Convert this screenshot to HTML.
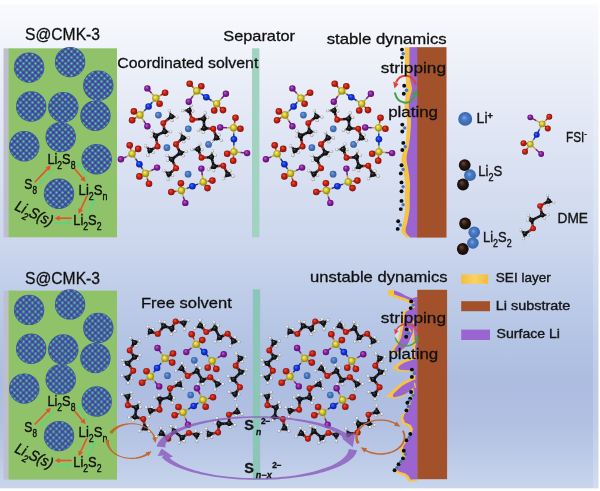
<!DOCTYPE html>
<html lang="en"><head><meta charset="utf-8"><title>Li-S electrolyte schematic</title>
<style>html,body{margin:0;padding:0;background:#fff;}body{width:600px;height:491px;overflow:hidden;}svg{display:block;font-family:"Liberation Sans",sans-serif;}</style></head><body>
<svg width="600" height="491" viewBox="0 0 600 491">
<defs>
<linearGradient id="bg" x1="0" y1="0" x2="0" y2="1"><stop offset="0" stop-color="#f9fafd"/><stop offset="0.26" stop-color="#e0e6f4"/><stop offset="0.5" stop-color="#cbd6ed"/><stop offset="0.68" stop-color="#b5c5e5"/><stop offset="0.78" stop-color="#adbde1"/><stop offset="0.86" stop-color="#b1c0e2"/><stop offset="0.93" stop-color="#bbc9e7"/><stop offset="1" stop-color="#c8d5ec"/></linearGradient>
<linearGradient id="gSEI" x1="0" y1="0" x2="1" y2="0"><stop offset="0" stop-color="#f3bd3c"/><stop offset="0.5" stop-color="#fbd264"/><stop offset="1" stop-color="#f3bd3c"/></linearGradient>
<radialGradient id="gO" cx="0.5" cy="0.5" r="0.56" fx="0.36" fy="0.32"><stop offset="0" stop-color="#f0523a"/><stop offset="0.42" stop-color="#cc2412"/><stop offset="0.85" stop-color="#8a1208"/><stop offset="1" stop-color="#6a0c04"/></radialGradient>
<radialGradient id="gS" cx="0.5" cy="0.5" r="0.56" fx="0.36" fy="0.32"><stop offset="0" stop-color="#fbf07a"/><stop offset="0.45" stop-color="#d6c832"/><stop offset="1" stop-color="#7e7312"/></radialGradient>
<radialGradient id="gN" cx="0.5" cy="0.5" r="0.56" fx="0.36" fy="0.32"><stop offset="0" stop-color="#4f78ff"/><stop offset="0.45" stop-color="#1636e0"/><stop offset="1" stop-color="#071a86"/></radialGradient>
<radialGradient id="gF" cx="0.5" cy="0.5" r="0.56" fx="0.36" fy="0.32"><stop offset="0" stop-color="#c860dc"/><stop offset="0.45" stop-color="#8c1fa2"/><stop offset="1" stop-color="#4a0c58"/></radialGradient>
<radialGradient id="gC" cx="0.5" cy="0.5" r="0.56" fx="0.36" fy="0.32"><stop offset="0" stop-color="#5a5a5a"/><stop offset="0.4" stop-color="#1c1c1c"/><stop offset="1" stop-color="#050505"/></radialGradient>
<radialGradient id="gH" cx="0.5" cy="0.5" r="0.56" fx="0.36" fy="0.32"><stop offset="0" stop-color="#ffffff"/><stop offset="0.5" stop-color="#dedede"/><stop offset="1" stop-color="#7c7c7c"/></radialGradient>
<radialGradient id="gL" cx="0.5" cy="0.5" r="0.56" fx="0.36" fy="0.32"><stop offset="0" stop-color="#7aa4dc"/><stop offset="0.5" stop-color="#4676be"/><stop offset="1" stop-color="#2f5a9e"/></radialGradient>
<radialGradient id="gL2" cx="0.5" cy="0.5" r="0.56" fx="0.42" fy="0.4"><stop offset="0" stop-color="#7fa8e0"/><stop offset="0.35" stop-color="#4a7cc4"/><stop offset="0.8" stop-color="#3a69b2"/><stop offset="1" stop-color="#2c5296"/></radialGradient>
<radialGradient id="gK" cx="0.5" cy="0.5" r="0.56" fx="0.36" fy="0.32"><stop offset="0" stop-color="#6a4a3a"/><stop offset="0.45" stop-color="#2a1812"/><stop offset="1" stop-color="#0c0604"/></radialGradient>
<pattern id="dots" width="6" height="6" patternUnits="userSpaceOnUse" x="1" y="2"><rect width="6" height="6" fill="#3a689e"/><circle cx="1.5" cy="1.5" r="1.3" fill="#5333a4"/><circle cx="4.5" cy="4.5" r="1.3" fill="#5333a4"/><circle cx="4.5" cy="1.5" r="1.02" fill="#68ca98"/><circle cx="1.5" cy="4.5" r="1.02" fill="#68ca98"/></pattern>
<g id="panel"><g><rect x="3.5" y="48.3" width="5.8" height="189" fill="#bdc0ca"/><rect x="8.6" y="48.3" width="108.4" height="189" fill="#90c369"/><circle cx="29.1" cy="67.6" r="15.2" fill="#36589a"/><circle cx="29.1" cy="67.6" r="14.6" fill="url(#dots)"/><circle cx="70.1" cy="62.1" r="15.2" fill="#36589a"/><circle cx="70.1" cy="62.1" r="14.6" fill="url(#dots)"/><circle cx="98.3" cy="85.6" r="15.2" fill="#36589a"/><circle cx="98.3" cy="85.6" r="14.6" fill="url(#dots)"/><circle cx="31.2" cy="106.5" r="15.2" fill="#36589a"/><circle cx="31.2" cy="106.5" r="14.6" fill="url(#dots)"/><circle cx="63.3" cy="107.2" r="15.2" fill="#36589a"/><circle cx="63.3" cy="107.2" r="14.6" fill="url(#dots)"/><circle cx="95.4" cy="115.8" r="15.2" fill="#36589a"/><circle cx="95.4" cy="115.8" r="14.6" fill="url(#dots)"/><circle cx="60.7" cy="137.1" r="15.2" fill="#36589a"/><circle cx="60.7" cy="137.1" r="14.6" fill="url(#dots)"/><circle cx="24.3" cy="146.3" r="15.2" fill="#36589a"/><circle cx="24.3" cy="146.3" r="14.6" fill="url(#dots)"/><circle cx="96.7" cy="159.2" r="15.2" fill="#36589a"/><circle cx="96.7" cy="159.2" r="14.6" fill="url(#dots)"/><circle cx="59" cy="193.8" r="15.2" fill="#36589a"/><circle cx="59" cy="193.8" r="14.6" fill="url(#dots)"/><line x1="34.8" y1="182.2" x2="47.79" y2="168.65" stroke="#e2522b" stroke-width="1.6"/><polygon points="50.9,165.4 49.32,170.81 45.56,167.21" fill="#e2522b"/><line x1="54" y1="169.3" x2="42.11" y2="181.75" stroke="#62d17a" stroke-width="1.6"/><polygon points="39,185 40.57,179.59 44.33,183.18" fill="#62d17a"/><line x1="74" y1="168" x2="82.7" y2="178.36" stroke="#e2522b" stroke-width="1.6"/><polygon points="85.6,181.8 80.39,179.65 84.37,176.3" fill="#e2522b"/><line x1="88" y1="179.3" x2="79.04" y2="165.38" stroke="#62d17a" stroke-width="1.6"/><polygon points="76.6,161.6 81.49,164.4 77.12,167.21" fill="#62d17a"/><line x1="87" y1="195.8" x2="80.5" y2="209.72" stroke="#e2522b" stroke-width="1.6"/><polygon points="78.6,213.8 78.36,208.17 83.07,210.37" fill="#e2522b"/><line x1="88" y1="215" x2="93.68" y2="202.12" stroke="#62d17a" stroke-width="1.6"/><polygon points="95.5,198 95.86,203.62 91.1,201.53" fill="#62d17a"/><line x1="71.6" y1="218.2" x2="59.1" y2="218.2" stroke="#e2522b" stroke-width="1.6"/><polygon points="54.6,218.2 59.6,215.6 59.6,220.8" fill="#e2522b"/><line x1="54.8" y1="223" x2="67.3" y2="223" stroke="#62d17a" stroke-width="1.6"/><polygon points="71.8,223 66.8,225.6 66.8,220.4" fill="#62d17a"/><g fill="#101010" stroke="#101010" stroke-width="0.4"><text x="47.4" y="163.8" font-size="15.2" textLength="28" lengthAdjust="spacingAndGlyphs"><tspan dy="0" font-size="15.2">Li</tspan><tspan dy="4.9" font-size="10.2">2</tspan><tspan dy="-4.9" font-size="15.2">S</tspan><tspan dy="4.9" font-size="10.2">8</tspan></text><text x="24.3" y="189.4" font-size="15.2" textLength="12.6" lengthAdjust="spacingAndGlyphs"><tspan dy="0" font-size="15.2">S</tspan><tspan dy="4.9" font-size="10.2">8</tspan></text><text x="78.6" y="194.9" font-size="15.2" textLength="28.8" lengthAdjust="spacingAndGlyphs"><tspan dy="0" font-size="15.2">Li</tspan><tspan dy="4.9" font-size="10.2">2</tspan><tspan dy="-4.9" font-size="15.2">S</tspan><tspan dy="4.9" font-size="10.2">n</tspan></text><text x="73.3" y="225.2" font-size="15.2" textLength="28.2" lengthAdjust="spacingAndGlyphs"><tspan dy="0" font-size="15.2">Li</tspan><tspan dy="4.9" font-size="10.2">2</tspan><tspan dy="-4.9" font-size="15.2">S</tspan><tspan dy="4.9" font-size="10.2">2</tspan></text><g transform="translate(14.0 209.6) rotate(25)"><text x="0" y="0" font-size="15" textLength="40" lengthAdjust="spacingAndGlyphs" font-style="italic"><tspan dy="0" font-size="15">Li</tspan><tspan dy="4.9" font-size="10">2</tspan><tspan dy="-4.9" font-size="15">S(s)</tspan></text></g></g></g></g>
<g id="ctop"><circle cx="158.4" cy="115.1" r="3.35" fill="url(#gL)"/><circle cx="188.3" cy="128.8" r="3.35" fill="url(#gL)"/><circle cx="166.9" cy="147.7" r="3.35" fill="url(#gL)"/><circle cx="208.6" cy="144.4" r="3.35" fill="url(#gL)"/><circle cx="188.1" cy="174.2" r="3.35" fill="url(#gL)"/><g><line x1="171.5" y1="116.6" x2="170.16" y2="113" stroke="#1b1b1b" stroke-width="2.1"/><line x1="170.16" y1="113" x2="169.34" y2="110.79" stroke="#8c8c8c" stroke-width="1.5"/><line x1="171.5" y1="116.6" x2="174.9" y2="116.81" stroke="#1b1b1b" stroke-width="2.1"/><line x1="174.9" y1="116.81" x2="176.99" y2="116.95" stroke="#8c8c8c" stroke-width="1.5"/><line x1="171.5" y1="116.6" x2="171.94" y2="118.98" stroke="#1b1b1b" stroke-width="2.1"/><line x1="171.94" y1="118.98" x2="172.2" y2="120.44" stroke="#8c8c8c" stroke-width="1.5"/><line x1="150" y1="150.3" x2="147.3" y2="147.56" stroke="#1b1b1b" stroke-width="2.1"/><line x1="147.3" y1="147.56" x2="145.65" y2="145.88" stroke="#8c8c8c" stroke-width="1.5"/><line x1="150" y1="150.3" x2="148.75" y2="153.47" stroke="#1b1b1b" stroke-width="2.1"/><line x1="148.75" y1="153.47" x2="147.99" y2="155.42" stroke="#8c8c8c" stroke-width="1.5"/><line x1="150" y1="150.3" x2="151.97" y2="151.7" stroke="#1b1b1b" stroke-width="2.1"/><line x1="151.97" y1="151.7" x2="153.18" y2="152.56" stroke="#8c8c8c" stroke-width="1.5"/><line x1="164.6" y1="131.6" x2="168.38" y2="131.72" stroke="#1b1b1b" stroke-width="2.1"/><line x1="168.38" y1="131.72" x2="170.7" y2="131.79" stroke="#8c8c8c" stroke-width="1.5"/><line x1="164.6" y1="131.6" x2="165.99" y2="133.8" stroke="#1b1b1b" stroke-width="2.1"/><line x1="165.99" y1="133.8" x2="166.84" y2="135.15" stroke="#8c8c8c" stroke-width="1.5"/><line x1="155.7" y1="135.9" x2="153.43" y2="132.88" stroke="#1b1b1b" stroke-width="2.1"/><line x1="153.43" y1="132.88" x2="152.03" y2="131.03" stroke="#8c8c8c" stroke-width="1.5"/><line x1="155.7" y1="135.9" x2="153.1" y2="136.04" stroke="#1b1b1b" stroke-width="2.1"/><line x1="153.1" y1="136.04" x2="151.51" y2="136.12" stroke="#8c8c8c" stroke-width="1.5"/><circle cx="169.34" cy="110.79" r="1.55" fill="url(#gH)"/><circle cx="176.99" cy="116.95" r="1.55" fill="url(#gH)"/><circle cx="172.2" cy="120.44" r="1.55" fill="url(#gH)"/><circle cx="145.65" cy="145.88" r="1.55" fill="url(#gH)"/><circle cx="147.99" cy="155.42" r="1.55" fill="url(#gH)"/><circle cx="153.18" cy="152.56" r="1.55" fill="url(#gH)"/><circle cx="170.7" cy="131.79" r="1.55" fill="url(#gH)"/><circle cx="166.84" cy="135.15" r="1.55" fill="url(#gH)"/><circle cx="152.03" cy="131.03" r="1.55" fill="url(#gH)"/><circle cx="151.51" cy="136.12" r="1.55" fill="url(#gH)"/><line x1="171.5" y1="116.6" x2="167.4" y2="119.85" stroke="#161616" stroke-width="2.6"/><line x1="167.4" y1="119.85" x2="163.3" y2="123.1" stroke="#b4200f" stroke-width="2.6"/><line x1="163.3" y1="123.1" x2="163.95" y2="127.35" stroke="#b4200f" stroke-width="2.6"/><line x1="163.95" y1="127.35" x2="164.6" y2="131.6" stroke="#161616" stroke-width="2.6"/><line x1="164.6" y1="131.6" x2="160.15" y2="133.75" stroke="#161616" stroke-width="2.6"/><line x1="160.15" y1="133.75" x2="155.7" y2="135.9" stroke="#161616" stroke-width="2.6"/><line x1="155.7" y1="135.9" x2="156.65" y2="141.2" stroke="#161616" stroke-width="2.6"/><line x1="156.65" y1="141.2" x2="157.6" y2="146.5" stroke="#b4200f" stroke-width="2.6"/><line x1="157.6" y1="146.5" x2="153.8" y2="148.4" stroke="#b4200f" stroke-width="2.6"/><line x1="153.8" y1="148.4" x2="150" y2="150.3" stroke="#161616" stroke-width="2.6"/><circle cx="171.5" cy="116.6" r="2.6" fill="url(#gC)"/><circle cx="164.6" cy="131.6" r="2.6" fill="url(#gC)"/><circle cx="155.7" cy="135.9" r="2.6" fill="url(#gC)"/><circle cx="150" cy="150.3" r="2.6" fill="url(#gC)"/><circle cx="163.3" cy="123.1" r="2.95" fill="url(#gO)"/><circle cx="157.6" cy="146.5" r="2.95" fill="url(#gO)"/></g><g><line x1="183" y1="137.9" x2="181.44" y2="134.39" stroke="#1b1b1b" stroke-width="2.1"/><line x1="181.44" y1="134.39" x2="180.48" y2="132.24" stroke="#8c8c8c" stroke-width="1.5"/><line x1="183" y1="137.9" x2="186.41" y2="137.9" stroke="#1b1b1b" stroke-width="2.1"/><line x1="186.41" y1="137.9" x2="188.5" y2="137.9" stroke="#8c8c8c" stroke-width="1.5"/><line x1="183" y1="137.9" x2="183.58" y2="140.25" stroke="#1b1b1b" stroke-width="2.1"/><line x1="183.58" y1="140.25" x2="183.94" y2="141.68" stroke="#8c8c8c" stroke-width="1.5"/><line x1="169" y1="174" x2="165.77" y2="171.92" stroke="#1b1b1b" stroke-width="2.1"/><line x1="165.77" y1="171.92" x2="163.79" y2="170.65" stroke="#8c8c8c" stroke-width="1.5"/><line x1="169" y1="174" x2="168.48" y2="177.37" stroke="#1b1b1b" stroke-width="2.1"/><line x1="168.48" y1="177.37" x2="168.16" y2="179.44" stroke="#8c8c8c" stroke-width="1.5"/><line x1="169" y1="174" x2="171.23" y2="174.94" stroke="#1b1b1b" stroke-width="2.1"/><line x1="171.23" y1="174.94" x2="172.6" y2="175.51" stroke="#8c8c8c" stroke-width="1.5"/><line x1="180.3" y1="152.9" x2="183.99" y2="152.07" stroke="#1b1b1b" stroke-width="2.1"/><line x1="183.99" y1="152.07" x2="186.25" y2="151.57" stroke="#8c8c8c" stroke-width="1.5"/><line x1="180.3" y1="152.9" x2="182.19" y2="154.69" stroke="#1b1b1b" stroke-width="2.1"/><line x1="182.19" y1="154.69" x2="183.35" y2="155.78" stroke="#8c8c8c" stroke-width="1.5"/><line x1="171.8" y1="159.3" x2="168.89" y2="156.89" stroke="#1b1b1b" stroke-width="2.1"/><line x1="168.89" y1="156.89" x2="167.1" y2="155.41" stroke="#8c8c8c" stroke-width="1.5"/><line x1="171.8" y1="159.3" x2="169.3" y2="160.03" stroke="#1b1b1b" stroke-width="2.1"/><line x1="169.3" y1="160.03" x2="167.77" y2="160.48" stroke="#8c8c8c" stroke-width="1.5"/><circle cx="180.48" cy="132.24" r="1.55" fill="url(#gH)"/><circle cx="188.5" cy="137.9" r="1.55" fill="url(#gH)"/><circle cx="183.94" cy="141.68" r="1.55" fill="url(#gH)"/><circle cx="163.79" cy="170.65" r="1.55" fill="url(#gH)"/><circle cx="168.16" cy="179.44" r="1.55" fill="url(#gH)"/><circle cx="172.6" cy="175.51" r="1.55" fill="url(#gH)"/><circle cx="186.25" cy="151.57" r="1.55" fill="url(#gH)"/><circle cx="183.35" cy="155.78" r="1.55" fill="url(#gH)"/><circle cx="167.1" cy="155.41" r="1.55" fill="url(#gH)"/><circle cx="167.77" cy="160.48" r="1.55" fill="url(#gH)"/><line x1="183" y1="137.9" x2="179.5" y2="141.05" stroke="#161616" stroke-width="2.6"/><line x1="179.5" y1="141.05" x2="176" y2="144.2" stroke="#b4200f" stroke-width="2.6"/><line x1="176" y1="144.2" x2="178.15" y2="148.55" stroke="#b4200f" stroke-width="2.6"/><line x1="178.15" y1="148.55" x2="180.3" y2="152.9" stroke="#161616" stroke-width="2.6"/><line x1="180.3" y1="152.9" x2="176.05" y2="156.1" stroke="#161616" stroke-width="2.6"/><line x1="176.05" y1="156.1" x2="171.8" y2="159.3" stroke="#161616" stroke-width="2.6"/><line x1="171.8" y1="159.3" x2="173.95" y2="163.75" stroke="#161616" stroke-width="2.6"/><line x1="173.95" y1="163.75" x2="176.1" y2="168.2" stroke="#b4200f" stroke-width="2.6"/><line x1="176.1" y1="168.2" x2="172.55" y2="171.1" stroke="#b4200f" stroke-width="2.6"/><line x1="172.55" y1="171.1" x2="169" y2="174" stroke="#161616" stroke-width="2.6"/><circle cx="183" cy="137.9" r="2.6" fill="url(#gC)"/><circle cx="180.3" cy="152.9" r="2.6" fill="url(#gC)"/><circle cx="171.8" cy="159.3" r="2.6" fill="url(#gC)"/><circle cx="169" cy="174" r="2.6" fill="url(#gC)"/><circle cx="176" cy="144.2" r="2.95" fill="url(#gO)"/><circle cx="176.1" cy="168.2" r="2.95" fill="url(#gO)"/></g><g><line x1="189" y1="110.5" x2="185.16" y2="110.57" stroke="#1b1b1b" stroke-width="2.1"/><line x1="185.16" y1="110.57" x2="182.8" y2="110.61" stroke="#8c8c8c" stroke-width="1.5"/><line x1="189" y1="110.5" x2="190.33" y2="107.36" stroke="#1b1b1b" stroke-width="2.1"/><line x1="190.33" y1="107.36" x2="191.15" y2="105.44" stroke="#8c8c8c" stroke-width="1.5"/><line x1="189" y1="110.5" x2="191.39" y2="110.88" stroke="#1b1b1b" stroke-width="2.1"/><line x1="191.39" y1="110.88" x2="192.85" y2="111.11" stroke="#8c8c8c" stroke-width="1.5"/><line x1="216.6" y1="137.8" x2="213.58" y2="140.17" stroke="#1b1b1b" stroke-width="2.1"/><line x1="213.58" y1="140.17" x2="211.72" y2="141.63" stroke="#8c8c8c" stroke-width="1.5"/><line x1="216.6" y1="137.8" x2="219.61" y2="139.39" stroke="#1b1b1b" stroke-width="2.1"/><line x1="219.61" y1="139.39" x2="221.46" y2="140.37" stroke="#8c8c8c" stroke-width="1.5"/><line x1="216.6" y1="137.8" x2="218.21" y2="136" stroke="#1b1b1b" stroke-width="2.1"/><line x1="218.21" y1="136" x2="219.2" y2="134.9" stroke="#8c8c8c" stroke-width="1.5"/><line x1="203.7" y1="118.8" x2="204.66" y2="115.14" stroke="#1b1b1b" stroke-width="2.1"/><line x1="204.66" y1="115.14" x2="205.25" y2="112.9" stroke="#8c8c8c" stroke-width="1.5"/><line x1="203.7" y1="118.8" x2="206.16" y2="117.94" stroke="#1b1b1b" stroke-width="2.1"/><line x1="206.16" y1="117.94" x2="207.66" y2="117.41" stroke="#8c8c8c" stroke-width="1.5"/><line x1="204.3" y1="128.2" x2="200.72" y2="129.43" stroke="#1b1b1b" stroke-width="2.1"/><line x1="200.72" y1="129.43" x2="198.53" y2="130.18" stroke="#8c8c8c" stroke-width="1.5"/><line x1="204.3" y1="128.2" x2="203.62" y2="130.71" stroke="#1b1b1b" stroke-width="2.1"/><line x1="203.62" y1="130.71" x2="203.21" y2="132.26" stroke="#8c8c8c" stroke-width="1.5"/><circle cx="182.8" cy="110.61" r="1.55" fill="url(#gH)"/><circle cx="191.15" cy="105.44" r="1.55" fill="url(#gH)"/><circle cx="192.85" cy="111.11" r="1.55" fill="url(#gH)"/><circle cx="211.72" cy="141.63" r="1.55" fill="url(#gH)"/><circle cx="221.46" cy="140.37" r="1.55" fill="url(#gH)"/><circle cx="219.2" cy="134.9" r="1.55" fill="url(#gH)"/><circle cx="205.25" cy="112.9" r="1.55" fill="url(#gH)"/><circle cx="207.66" cy="117.41" r="1.55" fill="url(#gH)"/><circle cx="198.53" cy="130.18" r="1.55" fill="url(#gH)"/><circle cx="203.21" cy="132.26" r="1.55" fill="url(#gH)"/><line x1="189" y1="110.5" x2="190.6" y2="115.15" stroke="#161616" stroke-width="2.6"/><line x1="190.6" y1="115.15" x2="192.2" y2="119.8" stroke="#b4200f" stroke-width="2.6"/><line x1="192.2" y1="119.8" x2="197.95" y2="119.3" stroke="#b4200f" stroke-width="2.6"/><line x1="197.95" y1="119.3" x2="203.7" y2="118.8" stroke="#161616" stroke-width="2.6"/><line x1="203.7" y1="118.8" x2="204" y2="123.5" stroke="#161616" stroke-width="2.6"/><line x1="204" y1="123.5" x2="204.3" y2="128.2" stroke="#161616" stroke-width="2.6"/><line x1="204.3" y1="128.2" x2="208.8" y2="128.5" stroke="#161616" stroke-width="2.6"/><line x1="208.8" y1="128.5" x2="213.3" y2="128.8" stroke="#b4200f" stroke-width="2.6"/><line x1="213.3" y1="128.8" x2="214.95" y2="133.3" stroke="#b4200f" stroke-width="2.6"/><line x1="214.95" y1="133.3" x2="216.6" y2="137.8" stroke="#161616" stroke-width="2.6"/><circle cx="189" cy="110.5" r="2.6" fill="url(#gC)"/><circle cx="203.7" cy="118.8" r="2.6" fill="url(#gC)"/><circle cx="204.3" cy="128.2" r="2.6" fill="url(#gC)"/><circle cx="216.6" cy="137.8" r="2.6" fill="url(#gC)"/><circle cx="192.2" cy="119.8" r="2.95" fill="url(#gO)"/><circle cx="213.3" cy="128.8" r="2.95" fill="url(#gO)"/></g><g><line x1="198.1" y1="149.2" x2="194.26" y2="149.44" stroke="#1b1b1b" stroke-width="2.1"/><line x1="194.26" y1="149.44" x2="191.91" y2="149.59" stroke="#8c8c8c" stroke-width="1.5"/><line x1="198.1" y1="149.2" x2="199.29" y2="146" stroke="#1b1b1b" stroke-width="2.1"/><line x1="199.29" y1="146" x2="200.02" y2="144.05" stroke="#8c8c8c" stroke-width="1.5"/><line x1="198.1" y1="149.2" x2="200.5" y2="149.47" stroke="#1b1b1b" stroke-width="2.1"/><line x1="200.5" y1="149.47" x2="201.98" y2="149.64" stroke="#8c8c8c" stroke-width="1.5"/><line x1="227.9" y1="174.3" x2="225.24" y2="177.07" stroke="#1b1b1b" stroke-width="2.1"/><line x1="225.24" y1="177.07" x2="223.6" y2="178.77" stroke="#8c8c8c" stroke-width="1.5"/><line x1="227.9" y1="174.3" x2="231.11" y2="175.46" stroke="#1b1b1b" stroke-width="2.1"/><line x1="231.11" y1="175.46" x2="233.07" y2="176.17" stroke="#8c8c8c" stroke-width="1.5"/><line x1="227.9" y1="174.3" x2="229.25" y2="172.29" stroke="#1b1b1b" stroke-width="2.1"/><line x1="229.25" y1="172.29" x2="230.07" y2="171.06" stroke="#8c8c8c" stroke-width="1.5"/><line x1="211.4" y1="157.1" x2="212" y2="153.37" stroke="#1b1b1b" stroke-width="2.1"/><line x1="212" y1="153.37" x2="212.37" y2="151.08" stroke="#8c8c8c" stroke-width="1.5"/><line x1="211.4" y1="157.1" x2="213.76" y2="156.01" stroke="#1b1b1b" stroke-width="2.1"/><line x1="213.76" y1="156.01" x2="215.21" y2="155.34" stroke="#8c8c8c" stroke-width="1.5"/><line x1="214" y1="166.4" x2="210.69" y2="168.23" stroke="#1b1b1b" stroke-width="2.1"/><line x1="210.69" y1="168.23" x2="208.66" y2="169.35" stroke="#8c8c8c" stroke-width="1.5"/><line x1="214" y1="166.4" x2="213.77" y2="168.99" stroke="#1b1b1b" stroke-width="2.1"/><line x1="213.77" y1="168.99" x2="213.63" y2="170.58" stroke="#8c8c8c" stroke-width="1.5"/><circle cx="191.91" cy="149.59" r="1.55" fill="url(#gH)"/><circle cx="200.02" cy="144.05" r="1.55" fill="url(#gH)"/><circle cx="201.98" cy="149.64" r="1.55" fill="url(#gH)"/><circle cx="223.6" cy="178.77" r="1.55" fill="url(#gH)"/><circle cx="233.07" cy="176.17" r="1.55" fill="url(#gH)"/><circle cx="230.07" cy="171.06" r="1.55" fill="url(#gH)"/><circle cx="212.37" cy="151.08" r="1.55" fill="url(#gH)"/><circle cx="215.21" cy="155.34" r="1.55" fill="url(#gH)"/><circle cx="208.66" cy="169.35" r="1.55" fill="url(#gH)"/><circle cx="213.63" cy="170.58" r="1.55" fill="url(#gH)"/><line x1="198.1" y1="149.2" x2="199.8" y2="153.5" stroke="#161616" stroke-width="2.6"/><line x1="199.8" y1="153.5" x2="201.5" y2="157.8" stroke="#b4200f" stroke-width="2.6"/><line x1="201.5" y1="157.8" x2="206.45" y2="157.45" stroke="#b4200f" stroke-width="2.6"/><line x1="206.45" y1="157.45" x2="211.4" y2="157.1" stroke="#161616" stroke-width="2.6"/><line x1="211.4" y1="157.1" x2="212.7" y2="161.75" stroke="#161616" stroke-width="2.6"/><line x1="212.7" y1="161.75" x2="214" y2="166.4" stroke="#161616" stroke-width="2.6"/><line x1="214" y1="166.4" x2="218.65" y2="166.05" stroke="#161616" stroke-width="2.6"/><line x1="218.65" y1="166.05" x2="223.3" y2="165.7" stroke="#b4200f" stroke-width="2.6"/><line x1="223.3" y1="165.7" x2="225.6" y2="170" stroke="#b4200f" stroke-width="2.6"/><line x1="225.6" y1="170" x2="227.9" y2="174.3" stroke="#161616" stroke-width="2.6"/><circle cx="198.1" cy="149.2" r="2.6" fill="url(#gC)"/><circle cx="211.4" cy="157.1" r="2.6" fill="url(#gC)"/><circle cx="214" cy="166.4" r="2.6" fill="url(#gC)"/><circle cx="227.9" cy="174.3" r="2.6" fill="url(#gC)"/><circle cx="201.5" cy="157.8" r="2.95" fill="url(#gO)"/><circle cx="223.3" cy="165.7" r="2.95" fill="url(#gO)"/></g><g><line x1="155.9" y1="98.2" x2="160.5" y2="95.45" stroke="#bcae28" stroke-width="1.5"/><line x1="160.5" y1="95.45" x2="165.1" y2="92.7" stroke="#b4200f" stroke-width="1.5"/><line x1="155.9" y1="98.2" x2="157.75" y2="100.95" stroke="#bcae28" stroke-width="1.5"/><line x1="157.75" y1="100.95" x2="159.6" y2="103.7" stroke="#b4200f" stroke-width="1.5"/><line x1="155.9" y1="98.2" x2="151.65" y2="93.3" stroke="#bcae28" stroke-width="1.5"/><line x1="151.65" y1="93.3" x2="147.4" y2="88.4" stroke="#7a1a8c" stroke-width="1.5"/><line x1="155.9" y1="98.2" x2="152.25" y2="102.35" stroke="#bcae28" stroke-width="1.5"/><line x1="152.25" y1="102.35" x2="148.6" y2="106.5" stroke="#1230c0" stroke-width="1.5"/><line x1="140" y1="115" x2="136.95" y2="113.2" stroke="#bcae28" stroke-width="1.5"/><line x1="136.95" y1="113.2" x2="133.9" y2="111.4" stroke="#b4200f" stroke-width="1.5"/><line x1="140" y1="115" x2="136.05" y2="117.6" stroke="#bcae28" stroke-width="1.5"/><line x1="136.05" y1="117.6" x2="132.1" y2="120.2" stroke="#b4200f" stroke-width="1.5"/><line x1="140" y1="115" x2="143.7" y2="120.65" stroke="#bcae28" stroke-width="1.5"/><line x1="143.7" y1="120.65" x2="147.4" y2="126.3" stroke="#7a1a8c" stroke-width="1.5"/><line x1="140" y1="115" x2="144.3" y2="110.75" stroke="#bcae28" stroke-width="1.5"/><line x1="144.3" y1="110.75" x2="148.6" y2="106.5" stroke="#1230c0" stroke-width="1.5"/><circle cx="147.4" cy="88.4" r="3.2" fill="url(#gF)"/><circle cx="147.4" cy="126.3" r="3.2" fill="url(#gF)"/><circle cx="165.1" cy="92.7" r="3.3" fill="url(#gO)"/><circle cx="159.6" cy="103.7" r="3.3" fill="url(#gO)"/><circle cx="133.9" cy="111.4" r="3.3" fill="url(#gO)"/><circle cx="132.1" cy="120.2" r="3.3" fill="url(#gO)"/><circle cx="148.6" cy="106.5" r="3.3" fill="url(#gN)"/><circle cx="155.9" cy="98.2" r="3.65" fill="url(#gS)"/><circle cx="140" cy="115" r="3.65" fill="url(#gS)"/></g><g><line x1="196.8" y1="90.9" x2="193.25" y2="87.35" stroke="#bcae28" stroke-width="1.5"/><line x1="193.25" y1="87.35" x2="189.7" y2="83.8" stroke="#b4200f" stroke-width="1.5"/><line x1="196.8" y1="90.9" x2="199.05" y2="88.6" stroke="#bcae28" stroke-width="1.5"/><line x1="199.05" y1="88.6" x2="201.3" y2="86.3" stroke="#b4200f" stroke-width="1.5"/><line x1="196.8" y1="90.9" x2="192.8" y2="96.3" stroke="#bcae28" stroke-width="1.5"/><line x1="192.8" y1="96.3" x2="188.8" y2="101.7" stroke="#7a1a8c" stroke-width="1.5"/><line x1="196.8" y1="90.9" x2="201.55" y2="94.05" stroke="#bcae28" stroke-width="1.5"/><line x1="201.55" y1="94.05" x2="206.3" y2="97.2" stroke="#1230c0" stroke-width="1.5"/><line x1="216.7" y1="103.8" x2="215.45" y2="107.15" stroke="#bcae28" stroke-width="1.5"/><line x1="215.45" y1="107.15" x2="214.2" y2="110.5" stroke="#b4200f" stroke-width="1.5"/><line x1="216.7" y1="103.8" x2="219.85" y2="106.95" stroke="#bcae28" stroke-width="1.5"/><line x1="219.85" y1="106.95" x2="223" y2="110.1" stroke="#b4200f" stroke-width="1.5"/><line x1="216.7" y1="103.8" x2="221.3" y2="98.8" stroke="#bcae28" stroke-width="1.5"/><line x1="221.3" y1="98.8" x2="225.9" y2="93.8" stroke="#7a1a8c" stroke-width="1.5"/><line x1="216.7" y1="103.8" x2="211.5" y2="100.5" stroke="#bcae28" stroke-width="1.5"/><line x1="211.5" y1="100.5" x2="206.3" y2="97.2" stroke="#1230c0" stroke-width="1.5"/><circle cx="188.8" cy="101.7" r="3.2" fill="url(#gF)"/><circle cx="225.9" cy="93.8" r="3.2" fill="url(#gF)"/><circle cx="189.7" cy="83.8" r="3.3" fill="url(#gO)"/><circle cx="201.3" cy="86.3" r="3.3" fill="url(#gO)"/><circle cx="214.2" cy="110.5" r="3.3" fill="url(#gO)"/><circle cx="223" cy="110.1" r="3.3" fill="url(#gO)"/><circle cx="206.3" cy="97.2" r="3.3" fill="url(#gN)"/><circle cx="196.8" cy="90.9" r="3.65" fill="url(#gS)"/><circle cx="216.7" cy="103.8" r="3.65" fill="url(#gS)"/></g><g><line x1="233.6" y1="127.8" x2="234.55" y2="122.8" stroke="#bcae28" stroke-width="1.5"/><line x1="234.55" y1="122.8" x2="235.5" y2="117.8" stroke="#b4200f" stroke-width="1.5"/><line x1="233.6" y1="127.8" x2="237" y2="128.3" stroke="#bcae28" stroke-width="1.5"/><line x1="237" y1="128.3" x2="240.4" y2="128.8" stroke="#b4200f" stroke-width="1.5"/><line x1="233.6" y1="127.8" x2="226.9" y2="127.65" stroke="#bcae28" stroke-width="1.5"/><line x1="226.9" y1="127.65" x2="220.2" y2="127.5" stroke="#7a1a8c" stroke-width="1.5"/><line x1="233.6" y1="127.8" x2="233.75" y2="133.55" stroke="#bcae28" stroke-width="1.5"/><line x1="233.75" y1="133.55" x2="233.9" y2="139.3" stroke="#1230c0" stroke-width="1.5"/><line x1="233.9" y1="151.8" x2="230.55" y2="152.8" stroke="#bcae28" stroke-width="1.5"/><line x1="230.55" y1="152.8" x2="227.2" y2="153.8" stroke="#b4200f" stroke-width="1.5"/><line x1="233.9" y1="151.8" x2="233.55" y2="156.25" stroke="#bcae28" stroke-width="1.5"/><line x1="233.55" y1="156.25" x2="233.2" y2="160.7" stroke="#b4200f" stroke-width="1.5"/><line x1="233.9" y1="151.8" x2="240.5" y2="152.45" stroke="#bcae28" stroke-width="1.5"/><line x1="240.5" y1="152.45" x2="247.1" y2="153.1" stroke="#7a1a8c" stroke-width="1.5"/><line x1="233.9" y1="151.8" x2="233.9" y2="145.55" stroke="#bcae28" stroke-width="1.5"/><line x1="233.9" y1="145.55" x2="233.9" y2="139.3" stroke="#1230c0" stroke-width="1.5"/><circle cx="220.2" cy="127.5" r="3.2" fill="url(#gF)"/><circle cx="247.1" cy="153.1" r="3.2" fill="url(#gF)"/><circle cx="235.5" cy="117.8" r="3.3" fill="url(#gO)"/><circle cx="240.4" cy="128.8" r="3.3" fill="url(#gO)"/><circle cx="227.2" cy="153.8" r="3.3" fill="url(#gO)"/><circle cx="233.2" cy="160.7" r="3.3" fill="url(#gO)"/><circle cx="233.9" cy="139.3" r="3.3" fill="url(#gN)"/><circle cx="233.6" cy="127.8" r="3.65" fill="url(#gS)"/><circle cx="233.9" cy="151.8" r="3.65" fill="url(#gS)"/></g><g><line x1="203.3" y1="182" x2="207.85" y2="181.3" stroke="#bcae28" stroke-width="1.5"/><line x1="207.85" y1="181.3" x2="212.4" y2="180.6" stroke="#b4200f" stroke-width="1.5"/><line x1="203.3" y1="182" x2="205.4" y2="185.05" stroke="#bcae28" stroke-width="1.5"/><line x1="205.4" y1="185.05" x2="207.5" y2="188.1" stroke="#b4200f" stroke-width="1.5"/><line x1="203.3" y1="182" x2="202.35" y2="175.3" stroke="#bcae28" stroke-width="1.5"/><line x1="202.35" y1="175.3" x2="201.4" y2="168.6" stroke="#7a1a8c" stroke-width="1.5"/><line x1="203.3" y1="182" x2="197.85" y2="184.15" stroke="#bcae28" stroke-width="1.5"/><line x1="197.85" y1="184.15" x2="192.4" y2="186.3" stroke="#1230c0" stroke-width="1.5"/><line x1="181.4" y1="190.5" x2="181.15" y2="186.9" stroke="#bcae28" stroke-width="1.5"/><line x1="181.15" y1="186.9" x2="180.9" y2="183.3" stroke="#b4200f" stroke-width="1.5"/><line x1="181.4" y1="190.5" x2="176.35" y2="191.25" stroke="#bcae28" stroke-width="1.5"/><line x1="176.35" y1="191.25" x2="171.3" y2="192" stroke="#b4200f" stroke-width="1.5"/><line x1="181.4" y1="190.5" x2="183.35" y2="196.7" stroke="#bcae28" stroke-width="1.5"/><line x1="183.35" y1="196.7" x2="185.3" y2="202.9" stroke="#7a1a8c" stroke-width="1.5"/><line x1="181.4" y1="190.5" x2="186.9" y2="188.4" stroke="#bcae28" stroke-width="1.5"/><line x1="186.9" y1="188.4" x2="192.4" y2="186.3" stroke="#1230c0" stroke-width="1.5"/><circle cx="201.4" cy="168.6" r="3.2" fill="url(#gF)"/><circle cx="185.3" cy="202.9" r="3.2" fill="url(#gF)"/><circle cx="212.4" cy="180.6" r="3.3" fill="url(#gO)"/><circle cx="207.5" cy="188.1" r="3.3" fill="url(#gO)"/><circle cx="180.9" cy="183.3" r="3.3" fill="url(#gO)"/><circle cx="171.3" cy="192" r="3.3" fill="url(#gO)"/><circle cx="192.4" cy="186.3" r="3.3" fill="url(#gN)"/><circle cx="203.3" cy="182" r="3.65" fill="url(#gS)"/><circle cx="181.4" cy="190.5" r="3.65" fill="url(#gS)"/></g><g><line x1="132.1" y1="153.8" x2="130.9" y2="149.55" stroke="#bcae28" stroke-width="1.5"/><line x1="130.9" y1="149.55" x2="129.7" y2="145.3" stroke="#b4200f" stroke-width="1.5"/><line x1="132.1" y1="153.8" x2="135.15" y2="151.35" stroke="#bcae28" stroke-width="1.5"/><line x1="135.15" y1="151.35" x2="138.2" y2="148.9" stroke="#b4200f" stroke-width="1.5"/><line x1="132.1" y1="153.8" x2="126.5" y2="156.55" stroke="#bcae28" stroke-width="1.5"/><line x1="126.5" y1="156.55" x2="120.9" y2="159.3" stroke="#7a1a8c" stroke-width="1.5"/><line x1="132.1" y1="153.8" x2="135.75" y2="159" stroke="#bcae28" stroke-width="1.5"/><line x1="135.75" y1="159" x2="139.4" y2="164.2" stroke="#1230c0" stroke-width="1.5"/><line x1="145.5" y1="173.4" x2="142.45" y2="174.9" stroke="#bcae28" stroke-width="1.5"/><line x1="142.45" y1="174.9" x2="139.4" y2="176.4" stroke="#b4200f" stroke-width="1.5"/><line x1="145.5" y1="173.4" x2="147.25" y2="178.6" stroke="#bcae28" stroke-width="1.5"/><line x1="147.25" y1="178.6" x2="149" y2="183.8" stroke="#b4200f" stroke-width="1.5"/><line x1="145.5" y1="173.4" x2="151.3" y2="170.5" stroke="#bcae28" stroke-width="1.5"/><line x1="151.3" y1="170.5" x2="157.1" y2="167.6" stroke="#7a1a8c" stroke-width="1.5"/><line x1="145.5" y1="173.4" x2="142.45" y2="168.8" stroke="#bcae28" stroke-width="1.5"/><line x1="142.45" y1="168.8" x2="139.4" y2="164.2" stroke="#1230c0" stroke-width="1.5"/><circle cx="120.9" cy="159.3" r="3.2" fill="url(#gF)"/><circle cx="157.1" cy="167.6" r="3.2" fill="url(#gF)"/><circle cx="129.7" cy="145.3" r="3.3" fill="url(#gO)"/><circle cx="138.2" cy="148.9" r="3.3" fill="url(#gO)"/><circle cx="139.4" cy="176.4" r="3.3" fill="url(#gO)"/><circle cx="149" cy="183.8" r="3.3" fill="url(#gO)"/><circle cx="139.4" cy="164.2" r="3.3" fill="url(#gN)"/><circle cx="132.1" cy="153.8" r="3.65" fill="url(#gS)"/><circle cx="145.5" cy="173.4" r="3.65" fill="url(#gS)"/></g></g>
<g id="cbot"><circle cx="167.5" cy="375.7" r="3.35" fill="url(#gL)"/><circle cx="194.3" cy="360.3" r="3.35" fill="url(#gL)"/><circle cx="190.7" cy="395" r="3.35" fill="url(#gL)"/><g><line x1="150.4" y1="331.5" x2="148.14" y2="334.61" stroke="#1b1b1b" stroke-width="2.1"/><line x1="148.14" y1="334.61" x2="146.76" y2="336.52" stroke="#8c8c8c" stroke-width="1.5"/><line x1="150.4" y1="331.5" x2="148.69" y2="328.55" stroke="#1b1b1b" stroke-width="2.1"/><line x1="148.69" y1="328.55" x2="147.65" y2="326.74" stroke="#8c8c8c" stroke-width="1.5"/><line x1="150.4" y1="331.5" x2="152.14" y2="329.82" stroke="#1b1b1b" stroke-width="2.1"/><line x1="152.14" y1="329.82" x2="153.2" y2="328.79" stroke="#8c8c8c" stroke-width="1.5"/><line x1="183.8" y1="323" x2="184.27" y2="326.82" stroke="#1b1b1b" stroke-width="2.1"/><line x1="184.27" y1="326.82" x2="184.55" y2="329.15" stroke="#8c8c8c" stroke-width="1.5"/><line x1="183.8" y1="323" x2="186.72" y2="321.25" stroke="#1b1b1b" stroke-width="2.1"/><line x1="186.72" y1="321.25" x2="188.52" y2="320.17" stroke="#8c8c8c" stroke-width="1.5"/><line x1="183.8" y1="323" x2="183.09" y2="320.69" stroke="#1b1b1b" stroke-width="2.1"/><line x1="183.09" y1="320.69" x2="182.66" y2="319.27" stroke="#8c8c8c" stroke-width="1.5"/><line x1="163.9" y1="326" x2="161.29" y2="323.27" stroke="#1b1b1b" stroke-width="2.1"/><line x1="161.29" y1="323.27" x2="159.68" y2="321.59" stroke="#8c8c8c" stroke-width="1.5"/><line x1="163.9" y1="326" x2="164.45" y2="323.46" stroke="#1b1b1b" stroke-width="2.1"/><line x1="164.45" y1="323.46" x2="164.79" y2="321.9" stroke="#8c8c8c" stroke-width="1.5"/><line x1="171.8" y1="328.4" x2="171.56" y2="332.17" stroke="#1b1b1b" stroke-width="2.1"/><line x1="171.56" y1="332.17" x2="171.41" y2="334.49" stroke="#8c8c8c" stroke-width="1.5"/><line x1="171.8" y1="328.4" x2="173.86" y2="329.99" stroke="#1b1b1b" stroke-width="2.1"/><line x1="173.86" y1="329.99" x2="175.12" y2="330.97" stroke="#8c8c8c" stroke-width="1.5"/><circle cx="146.76" cy="336.52" r="1.55" fill="url(#gH)"/><circle cx="147.65" cy="326.74" r="1.55" fill="url(#gH)"/><circle cx="153.2" cy="328.79" r="1.55" fill="url(#gH)"/><circle cx="184.55" cy="329.15" r="1.55" fill="url(#gH)"/><circle cx="188.52" cy="320.17" r="1.55" fill="url(#gH)"/><circle cx="182.66" cy="319.27" r="1.55" fill="url(#gH)"/><circle cx="159.68" cy="321.59" r="1.55" fill="url(#gH)"/><circle cx="164.79" cy="321.9" r="1.55" fill="url(#gH)"/><circle cx="171.41" cy="334.49" r="1.55" fill="url(#gH)"/><circle cx="175.12" cy="330.97" r="1.55" fill="url(#gH)"/><line x1="150.4" y1="331.5" x2="154.1" y2="332.7" stroke="#161616" stroke-width="2.6"/><line x1="154.1" y1="332.7" x2="157.8" y2="333.9" stroke="#b4200f" stroke-width="2.6"/><line x1="157.8" y1="333.9" x2="160.85" y2="329.95" stroke="#b4200f" stroke-width="2.6"/><line x1="160.85" y1="329.95" x2="163.9" y2="326" stroke="#161616" stroke-width="2.6"/><line x1="163.9" y1="326" x2="167.85" y2="327.2" stroke="#161616" stroke-width="2.6"/><line x1="167.85" y1="327.2" x2="171.8" y2="328.4" stroke="#161616" stroke-width="2.6"/><line x1="171.8" y1="328.4" x2="173.7" y2="324.9" stroke="#161616" stroke-width="2.6"/><line x1="173.7" y1="324.9" x2="175.6" y2="321.4" stroke="#b4200f" stroke-width="2.6"/><line x1="175.6" y1="321.4" x2="179.7" y2="322.2" stroke="#b4200f" stroke-width="2.6"/><line x1="179.7" y1="322.2" x2="183.8" y2="323" stroke="#161616" stroke-width="2.6"/><circle cx="150.4" cy="331.5" r="2.6" fill="url(#gC)"/><circle cx="163.9" cy="326" r="2.6" fill="url(#gC)"/><circle cx="171.8" cy="328.4" r="2.6" fill="url(#gC)"/><circle cx="183.8" cy="323" r="2.6" fill="url(#gC)"/><circle cx="157.8" cy="333.9" r="2.95" fill="url(#gO)"/><circle cx="175.6" cy="321.4" r="2.95" fill="url(#gO)"/></g><g><line x1="134.5" y1="342.5" x2="131.99" y2="339.59" stroke="#1b1b1b" stroke-width="2.1"/><line x1="131.99" y1="339.59" x2="130.46" y2="337.8" stroke="#8c8c8c" stroke-width="1.5"/><line x1="134.5" y1="342.5" x2="137.77" y2="341.52" stroke="#1b1b1b" stroke-width="2.1"/><line x1="137.77" y1="341.52" x2="139.77" y2="340.92" stroke="#8c8c8c" stroke-width="1.5"/><line x1="134.5" y1="342.5" x2="135.74" y2="344.58" stroke="#1b1b1b" stroke-width="2.1"/><line x1="135.74" y1="344.58" x2="136.49" y2="345.85" stroke="#8c8c8c" stroke-width="1.5"/><line x1="127.8" y1="377.8" x2="124.19" y2="376.48" stroke="#1b1b1b" stroke-width="2.1"/><line x1="124.19" y1="376.48" x2="121.98" y2="375.66" stroke="#8c8c8c" stroke-width="1.5"/><line x1="127.8" y1="377.8" x2="128.03" y2="381.2" stroke="#1b1b1b" stroke-width="2.1"/><line x1="128.03" y1="381.2" x2="128.17" y2="383.29" stroke="#8c8c8c" stroke-width="1.5"/><line x1="127.8" y1="377.8" x2="130.18" y2="378.23" stroke="#1b1b1b" stroke-width="2.1"/><line x1="130.18" y1="378.23" x2="131.64" y2="378.49" stroke="#8c8c8c" stroke-width="1.5"/><line x1="134.5" y1="357.1" x2="138.05" y2="355.79" stroke="#1b1b1b" stroke-width="2.1"/><line x1="138.05" y1="355.79" x2="140.22" y2="354.99" stroke="#8c8c8c" stroke-width="1.5"/><line x1="134.5" y1="357.1" x2="136.61" y2="358.62" stroke="#1b1b1b" stroke-width="2.1"/><line x1="136.61" y1="358.62" x2="137.91" y2="359.56" stroke="#8c8c8c" stroke-width="1.5"/><line x1="127.8" y1="363.3" x2="124.57" y2="361.32" stroke="#1b1b1b" stroke-width="2.1"/><line x1="124.57" y1="361.32" x2="122.6" y2="360.11" stroke="#8c8c8c" stroke-width="1.5"/><line x1="127.8" y1="363.3" x2="125.43" y2="364.38" stroke="#1b1b1b" stroke-width="2.1"/><line x1="125.43" y1="364.38" x2="123.98" y2="365.04" stroke="#8c8c8c" stroke-width="1.5"/><circle cx="130.46" cy="337.8" r="1.55" fill="url(#gH)"/><circle cx="139.77" cy="340.92" r="1.55" fill="url(#gH)"/><circle cx="136.49" cy="345.85" r="1.55" fill="url(#gH)"/><circle cx="121.98" cy="375.66" r="1.55" fill="url(#gH)"/><circle cx="128.17" cy="383.29" r="1.55" fill="url(#gH)"/><circle cx="131.64" cy="378.49" r="1.55" fill="url(#gH)"/><circle cx="140.22" cy="354.99" r="1.55" fill="url(#gH)"/><circle cx="137.91" cy="359.56" r="1.55" fill="url(#gH)"/><circle cx="122.6" cy="360.11" r="1.55" fill="url(#gH)"/><circle cx="123.98" cy="365.04" r="1.55" fill="url(#gH)"/><line x1="134.5" y1="342.5" x2="132.1" y2="346.45" stroke="#161616" stroke-width="2.6"/><line x1="132.1" y1="346.45" x2="129.7" y2="350.4" stroke="#b4200f" stroke-width="2.6"/><line x1="129.7" y1="350.4" x2="132.1" y2="353.75" stroke="#b4200f" stroke-width="2.6"/><line x1="132.1" y1="353.75" x2="134.5" y2="357.1" stroke="#161616" stroke-width="2.6"/><line x1="134.5" y1="357.1" x2="131.15" y2="360.2" stroke="#161616" stroke-width="2.6"/><line x1="131.15" y1="360.2" x2="127.8" y2="363.3" stroke="#161616" stroke-width="2.6"/><line x1="127.8" y1="363.3" x2="130.55" y2="367.05" stroke="#161616" stroke-width="2.6"/><line x1="130.55" y1="367.05" x2="133.3" y2="370.8" stroke="#b4200f" stroke-width="2.6"/><line x1="133.3" y1="370.8" x2="130.55" y2="374.3" stroke="#b4200f" stroke-width="2.6"/><line x1="130.55" y1="374.3" x2="127.8" y2="377.8" stroke="#161616" stroke-width="2.6"/><circle cx="134.5" cy="342.5" r="2.6" fill="url(#gC)"/><circle cx="134.5" cy="357.1" r="2.6" fill="url(#gC)"/><circle cx="127.8" cy="363.3" r="2.6" fill="url(#gC)"/><circle cx="127.8" cy="377.8" r="2.6" fill="url(#gC)"/><circle cx="129.7" cy="350.4" r="2.95" fill="url(#gO)"/><circle cx="133.3" cy="370.8" r="2.95" fill="url(#gO)"/></g><g><line x1="127.8" y1="396.5" x2="124.14" y2="395.31" stroke="#1b1b1b" stroke-width="2.1"/><line x1="124.14" y1="395.31" x2="121.9" y2="394.58" stroke="#8c8c8c" stroke-width="1.5"/><line x1="127.8" y1="396.5" x2="130.08" y2="393.97" stroke="#1b1b1b" stroke-width="2.1"/><line x1="130.08" y1="393.97" x2="131.48" y2="392.41" stroke="#8c8c8c" stroke-width="1.5"/><line x1="127.8" y1="396.5" x2="129.93" y2="397.64" stroke="#1b1b1b" stroke-width="2.1"/><line x1="129.93" y1="397.64" x2="131.24" y2="398.33" stroke="#8c8c8c" stroke-width="1.5"/><line x1="145" y1="428" x2="141.63" y2="429.85" stroke="#1b1b1b" stroke-width="2.1"/><line x1="141.63" y1="429.85" x2="139.56" y2="430.98" stroke="#8c8c8c" stroke-width="1.5"/><line x1="145" y1="428" x2="147.71" y2="430.07" stroke="#1b1b1b" stroke-width="2.1"/><line x1="147.71" y1="430.07" x2="149.37" y2="431.33" stroke="#8c8c8c" stroke-width="1.5"/><line x1="145" y1="428" x2="146.89" y2="426.49" stroke="#1b1b1b" stroke-width="2.1"/><line x1="146.89" y1="426.49" x2="148.04" y2="425.56" stroke="#8c8c8c" stroke-width="1.5"/><line x1="136.4" y1="407.5" x2="138.3" y2="404.23" stroke="#1b1b1b" stroke-width="2.1"/><line x1="138.3" y1="404.23" x2="139.46" y2="402.23" stroke="#8c8c8c" stroke-width="1.5"/><line x1="136.4" y1="407.5" x2="139" y2="407.33" stroke="#1b1b1b" stroke-width="2.1"/><line x1="139" y1="407.33" x2="140.59" y2="407.22" stroke="#8c8c8c" stroke-width="1.5"/><line x1="135.1" y1="416.8" x2="131.35" y2="417.29" stroke="#1b1b1b" stroke-width="2.1"/><line x1="131.35" y1="417.29" x2="129.05" y2="417.6" stroke="#8c8c8c" stroke-width="1.5"/><line x1="135.1" y1="416.8" x2="133.94" y2="419.13" stroke="#1b1b1b" stroke-width="2.1"/><line x1="133.94" y1="419.13" x2="133.23" y2="420.56" stroke="#8c8c8c" stroke-width="1.5"/><circle cx="121.9" cy="394.58" r="1.55" fill="url(#gH)"/><circle cx="131.48" cy="392.41" r="1.55" fill="url(#gH)"/><circle cx="131.24" cy="398.33" r="1.55" fill="url(#gH)"/><circle cx="139.56" cy="430.98" r="1.55" fill="url(#gH)"/><circle cx="149.37" cy="431.33" r="1.55" fill="url(#gH)"/><circle cx="148.04" cy="425.56" r="1.55" fill="url(#gH)"/><circle cx="139.46" cy="402.23" r="1.55" fill="url(#gH)"/><circle cx="140.59" cy="407.22" r="1.55" fill="url(#gH)"/><circle cx="129.05" cy="417.6" r="1.55" fill="url(#gH)"/><circle cx="133.23" cy="420.56" r="1.55" fill="url(#gH)"/><line x1="127.8" y1="396.5" x2="127.8" y2="400.9" stroke="#161616" stroke-width="2.6"/><line x1="127.8" y1="400.9" x2="127.8" y2="405.3" stroke="#b4200f" stroke-width="2.6"/><line x1="127.8" y1="405.3" x2="132.1" y2="406.4" stroke="#b4200f" stroke-width="2.6"/><line x1="132.1" y1="406.4" x2="136.4" y2="407.5" stroke="#161616" stroke-width="2.6"/><line x1="136.4" y1="407.5" x2="135.75" y2="412.15" stroke="#161616" stroke-width="2.6"/><line x1="135.75" y1="412.15" x2="135.1" y2="416.8" stroke="#161616" stroke-width="2.6"/><line x1="135.1" y1="416.8" x2="139.2" y2="417.9" stroke="#161616" stroke-width="2.6"/><line x1="139.2" y1="417.9" x2="143.3" y2="419" stroke="#b4200f" stroke-width="2.6"/><line x1="143.3" y1="419" x2="144.15" y2="423.5" stroke="#b4200f" stroke-width="2.6"/><line x1="144.15" y1="423.5" x2="145" y2="428" stroke="#161616" stroke-width="2.6"/><circle cx="127.8" cy="396.5" r="2.6" fill="url(#gC)"/><circle cx="136.4" cy="407.5" r="2.6" fill="url(#gC)"/><circle cx="135.1" cy="416.8" r="2.6" fill="url(#gC)"/><circle cx="145" cy="428" r="2.6" fill="url(#gC)"/><circle cx="127.8" cy="405.3" r="2.95" fill="url(#gO)"/><circle cx="143.3" cy="419" r="2.95" fill="url(#gO)"/></g><g><line x1="200.3" y1="325.7" x2="196.82" y2="327.33" stroke="#1b1b1b" stroke-width="2.1"/><line x1="196.82" y1="327.33" x2="194.69" y2="328.34" stroke="#8c8c8c" stroke-width="1.5"/><line x1="200.3" y1="325.7" x2="200.23" y2="322.29" stroke="#1b1b1b" stroke-width="2.1"/><line x1="200.23" y1="322.29" x2="200.19" y2="320.2" stroke="#8c8c8c" stroke-width="1.5"/><line x1="200.3" y1="325.7" x2="202.63" y2="325.07" stroke="#1b1b1b" stroke-width="2.1"/><line x1="202.63" y1="325.07" x2="204.06" y2="324.68" stroke="#8c8c8c" stroke-width="1.5"/><line x1="233.7" y1="341" x2="231.63" y2="344.24" stroke="#1b1b1b" stroke-width="2.1"/><line x1="231.63" y1="344.24" x2="230.36" y2="346.22" stroke="#8c8c8c" stroke-width="1.5"/><line x1="233.7" y1="341" x2="237.07" y2="341.51" stroke="#1b1b1b" stroke-width="2.1"/><line x1="237.07" y1="341.51" x2="239.14" y2="341.82" stroke="#8c8c8c" stroke-width="1.5"/><line x1="233.7" y1="341" x2="234.63" y2="338.77" stroke="#1b1b1b" stroke-width="2.1"/><line x1="234.63" y1="338.77" x2="235.2" y2="337.4" stroke="#8c8c8c" stroke-width="1.5"/><line x1="215" y1="328.3" x2="214.57" y2="324.54" stroke="#1b1b1b" stroke-width="2.1"/><line x1="214.57" y1="324.54" x2="214.31" y2="322.24" stroke="#8c8c8c" stroke-width="1.5"/><line x1="215" y1="328.3" x2="216.98" y2="326.61" stroke="#1b1b1b" stroke-width="2.1"/><line x1="216.98" y1="326.61" x2="218.2" y2="325.57" stroke="#8c8c8c" stroke-width="1.5"/><line x1="219.7" y1="337.4" x2="217.03" y2="340.08" stroke="#1b1b1b" stroke-width="2.1"/><line x1="217.03" y1="340.08" x2="215.39" y2="341.72" stroke="#8c8c8c" stroke-width="1.5"/><line x1="219.7" y1="337.4" x2="220.2" y2="339.96" stroke="#1b1b1b" stroke-width="2.1"/><line x1="220.2" y1="339.96" x2="220.51" y2="341.52" stroke="#8c8c8c" stroke-width="1.5"/><circle cx="194.69" cy="328.34" r="1.55" fill="url(#gH)"/><circle cx="200.19" cy="320.2" r="1.55" fill="url(#gH)"/><circle cx="204.06" cy="324.68" r="1.55" fill="url(#gH)"/><circle cx="230.36" cy="346.22" r="1.55" fill="url(#gH)"/><circle cx="239.14" cy="341.82" r="1.55" fill="url(#gH)"/><circle cx="235.2" cy="337.4" r="1.55" fill="url(#gH)"/><circle cx="214.31" cy="322.24" r="1.55" fill="url(#gH)"/><circle cx="218.2" cy="325.57" r="1.55" fill="url(#gH)"/><circle cx="215.39" cy="341.72" r="1.55" fill="url(#gH)"/><circle cx="220.51" cy="341.52" r="1.55" fill="url(#gH)"/><line x1="200.3" y1="325.7" x2="203.3" y2="328.9" stroke="#161616" stroke-width="2.6"/><line x1="203.3" y1="328.9" x2="206.3" y2="332.1" stroke="#b4200f" stroke-width="2.6"/><line x1="206.3" y1="332.1" x2="210.65" y2="330.2" stroke="#b4200f" stroke-width="2.6"/><line x1="210.65" y1="330.2" x2="215" y2="328.3" stroke="#161616" stroke-width="2.6"/><line x1="215" y1="328.3" x2="217.35" y2="332.85" stroke="#161616" stroke-width="2.6"/><line x1="217.35" y1="332.85" x2="219.7" y2="337.4" stroke="#161616" stroke-width="2.6"/><line x1="219.7" y1="337.4" x2="223.7" y2="335.55" stroke="#161616" stroke-width="2.6"/><line x1="223.7" y1="335.55" x2="227.7" y2="333.7" stroke="#b4200f" stroke-width="2.6"/><line x1="227.7" y1="333.7" x2="230.7" y2="337.35" stroke="#b4200f" stroke-width="2.6"/><line x1="230.7" y1="337.35" x2="233.7" y2="341" stroke="#161616" stroke-width="2.6"/><circle cx="200.3" cy="325.7" r="2.6" fill="url(#gC)"/><circle cx="215" cy="328.3" r="2.6" fill="url(#gC)"/><circle cx="219.7" cy="337.4" r="2.6" fill="url(#gC)"/><circle cx="233.7" cy="341" r="2.6" fill="url(#gC)"/><circle cx="206.3" cy="332.1" r="2.95" fill="url(#gO)"/><circle cx="227.7" cy="333.7" r="2.95" fill="url(#gO)"/></g><g><line x1="240.3" y1="358.3" x2="237.8" y2="355.38" stroke="#1b1b1b" stroke-width="2.1"/><line x1="237.8" y1="355.38" x2="236.28" y2="353.58" stroke="#8c8c8c" stroke-width="1.5"/><line x1="240.3" y1="358.3" x2="243.57" y2="357.33" stroke="#1b1b1b" stroke-width="2.1"/><line x1="243.57" y1="357.33" x2="245.57" y2="356.74" stroke="#8c8c8c" stroke-width="1.5"/><line x1="240.3" y1="358.3" x2="241.53" y2="360.38" stroke="#1b1b1b" stroke-width="2.1"/><line x1="241.53" y1="360.38" x2="242.28" y2="361.66" stroke="#8c8c8c" stroke-width="1.5"/><line x1="235" y1="394" x2="231.36" y2="392.77" stroke="#1b1b1b" stroke-width="2.1"/><line x1="231.36" y1="392.77" x2="229.13" y2="392.01" stroke="#8c8c8c" stroke-width="1.5"/><line x1="235" y1="394" x2="235.31" y2="397.4" stroke="#1b1b1b" stroke-width="2.1"/><line x1="235.31" y1="397.4" x2="235.5" y2="399.48" stroke="#8c8c8c" stroke-width="1.5"/><line x1="235" y1="394" x2="237.39" y2="394.37" stroke="#1b1b1b" stroke-width="2.1"/><line x1="237.39" y1="394.37" x2="238.85" y2="394.59" stroke="#8c8c8c" stroke-width="1.5"/><line x1="241" y1="372.1" x2="244.47" y2="370.6" stroke="#1b1b1b" stroke-width="2.1"/><line x1="244.47" y1="370.6" x2="246.6" y2="369.68" stroke="#8c8c8c" stroke-width="1.5"/><line x1="241" y1="372.1" x2="243.19" y2="373.51" stroke="#1b1b1b" stroke-width="2.1"/><line x1="243.19" y1="373.51" x2="244.54" y2="374.37" stroke="#8c8c8c" stroke-width="1.5"/><line x1="233.7" y1="379.3" x2="230.41" y2="377.43" stroke="#1b1b1b" stroke-width="2.1"/><line x1="230.41" y1="377.43" x2="228.4" y2="376.29" stroke="#8c8c8c" stroke-width="1.5"/><line x1="233.7" y1="379.3" x2="231.37" y2="380.46" stroke="#1b1b1b" stroke-width="2.1"/><line x1="231.37" y1="380.46" x2="229.94" y2="381.17" stroke="#8c8c8c" stroke-width="1.5"/><circle cx="236.28" cy="353.58" r="1.55" fill="url(#gH)"/><circle cx="245.57" cy="356.74" r="1.55" fill="url(#gH)"/><circle cx="242.28" cy="361.66" r="1.55" fill="url(#gH)"/><circle cx="229.13" cy="392.01" r="1.55" fill="url(#gH)"/><circle cx="235.5" cy="399.48" r="1.55" fill="url(#gH)"/><circle cx="238.85" cy="394.59" r="1.55" fill="url(#gH)"/><circle cx="246.6" cy="369.68" r="1.55" fill="url(#gH)"/><circle cx="244.54" cy="374.37" r="1.55" fill="url(#gH)"/><circle cx="228.4" cy="376.29" r="1.55" fill="url(#gH)"/><circle cx="229.94" cy="381.17" r="1.55" fill="url(#gH)"/><line x1="240.3" y1="358.3" x2="238" y2="362.05" stroke="#161616" stroke-width="2.6"/><line x1="238" y1="362.05" x2="235.7" y2="365.8" stroke="#b4200f" stroke-width="2.6"/><line x1="235.7" y1="365.8" x2="238.35" y2="368.95" stroke="#b4200f" stroke-width="2.6"/><line x1="238.35" y1="368.95" x2="241" y2="372.1" stroke="#161616" stroke-width="2.6"/><line x1="241" y1="372.1" x2="237.35" y2="375.7" stroke="#161616" stroke-width="2.6"/><line x1="237.35" y1="375.7" x2="233.7" y2="379.3" stroke="#161616" stroke-width="2.6"/><line x1="233.7" y1="379.3" x2="236.85" y2="383.3" stroke="#161616" stroke-width="2.6"/><line x1="236.85" y1="383.3" x2="240" y2="387.3" stroke="#b4200f" stroke-width="2.6"/><line x1="240" y1="387.3" x2="237.5" y2="390.65" stroke="#b4200f" stroke-width="2.6"/><line x1="237.5" y1="390.65" x2="235" y2="394" stroke="#161616" stroke-width="2.6"/><circle cx="240.3" cy="358.3" r="2.6" fill="url(#gC)"/><circle cx="241" cy="372.1" r="2.6" fill="url(#gC)"/><circle cx="233.7" cy="379.3" r="2.6" fill="url(#gC)"/><circle cx="235" cy="394" r="2.6" fill="url(#gC)"/><circle cx="235.7" cy="365.8" r="2.95" fill="url(#gO)"/><circle cx="240" cy="387.3" r="2.95" fill="url(#gO)"/></g><g><line x1="237.1" y1="411.8" x2="237.04" y2="407.96" stroke="#1b1b1b" stroke-width="2.1"/><line x1="237.04" y1="407.96" x2="237.01" y2="405.6" stroke="#8c8c8c" stroke-width="1.5"/><line x1="237.1" y1="411.8" x2="240.24" y2="413.14" stroke="#1b1b1b" stroke-width="2.1"/><line x1="240.24" y1="413.14" x2="242.16" y2="413.96" stroke="#8c8c8c" stroke-width="1.5"/><line x1="237.1" y1="411.8" x2="236.72" y2="414.19" stroke="#1b1b1b" stroke-width="2.1"/><line x1="236.72" y1="414.19" x2="236.48" y2="415.65" stroke="#8c8c8c" stroke-width="1.5"/><line x1="209.3" y1="434.1" x2="207.48" y2="430.72" stroke="#1b1b1b" stroke-width="2.1"/><line x1="207.48" y1="430.72" x2="206.36" y2="428.64" stroke="#8c8c8c" stroke-width="1.5"/><line x1="209.3" y1="434.1" x2="207.21" y2="436.8" stroke="#1b1b1b" stroke-width="2.1"/><line x1="207.21" y1="436.8" x2="205.94" y2="438.45" stroke="#8c8c8c" stroke-width="1.5"/><line x1="209.3" y1="434.1" x2="210.8" y2="436" stroke="#1b1b1b" stroke-width="2.1"/><line x1="210.8" y1="436" x2="211.72" y2="437.16" stroke="#8c8c8c" stroke-width="1.5"/><line x1="229.2" y1="423.3" x2="232.83" y2="424.36" stroke="#1b1b1b" stroke-width="2.1"/><line x1="232.83" y1="424.36" x2="235.05" y2="425.01" stroke="#8c8c8c" stroke-width="1.5"/><line x1="229.2" y1="423.3" x2="229.99" y2="425.78" stroke="#1b1b1b" stroke-width="2.1"/><line x1="229.99" y1="425.78" x2="230.48" y2="427.3" stroke="#8c8c8c" stroke-width="1.5"/><line x1="219.1" y1="423.9" x2="217.97" y2="420.29" stroke="#1b1b1b" stroke-width="2.1"/><line x1="217.97" y1="420.29" x2="217.28" y2="418.08" stroke="#8c8c8c" stroke-width="1.5"/><line x1="219.1" y1="423.9" x2="216.6" y2="423.16" stroke="#1b1b1b" stroke-width="2.1"/><line x1="216.6" y1="423.16" x2="215.08" y2="422.7" stroke="#8c8c8c" stroke-width="1.5"/><circle cx="237.01" cy="405.6" r="1.55" fill="url(#gH)"/><circle cx="242.16" cy="413.96" r="1.55" fill="url(#gH)"/><circle cx="236.48" cy="415.65" r="1.55" fill="url(#gH)"/><circle cx="206.36" cy="428.64" r="1.55" fill="url(#gH)"/><circle cx="205.94" cy="438.45" r="1.55" fill="url(#gH)"/><circle cx="211.72" cy="437.16" r="1.55" fill="url(#gH)"/><circle cx="235.05" cy="425.01" r="1.55" fill="url(#gH)"/><circle cx="230.48" cy="427.3" r="1.55" fill="url(#gH)"/><circle cx="217.28" cy="418.08" r="1.55" fill="url(#gH)"/><circle cx="215.08" cy="422.7" r="1.55" fill="url(#gH)"/><line x1="237.1" y1="411.8" x2="233" y2="413.2" stroke="#161616" stroke-width="2.6"/><line x1="233" y1="413.2" x2="228.9" y2="414.6" stroke="#b4200f" stroke-width="2.6"/><line x1="228.9" y1="414.6" x2="229.05" y2="418.95" stroke="#b4200f" stroke-width="2.6"/><line x1="229.05" y1="418.95" x2="229.2" y2="423.3" stroke="#161616" stroke-width="2.6"/><line x1="229.2" y1="423.3" x2="224.15" y2="423.6" stroke="#161616" stroke-width="2.6"/><line x1="224.15" y1="423.6" x2="219.1" y2="423.9" stroke="#161616" stroke-width="2.6"/><line x1="219.1" y1="423.9" x2="218.6" y2="428.2" stroke="#161616" stroke-width="2.6"/><line x1="218.6" y1="428.2" x2="218.1" y2="432.5" stroke="#b4200f" stroke-width="2.6"/><line x1="218.1" y1="432.5" x2="213.7" y2="433.3" stroke="#b4200f" stroke-width="2.6"/><line x1="213.7" y1="433.3" x2="209.3" y2="434.1" stroke="#161616" stroke-width="2.6"/><circle cx="237.1" cy="411.8" r="2.6" fill="url(#gC)"/><circle cx="229.2" cy="423.3" r="2.6" fill="url(#gC)"/><circle cx="219.1" cy="423.9" r="2.6" fill="url(#gC)"/><circle cx="209.3" cy="434.1" r="2.6" fill="url(#gC)"/><circle cx="228.9" cy="414.6" r="2.95" fill="url(#gO)"/><circle cx="218.1" cy="432.5" r="2.95" fill="url(#gO)"/></g><g><line x1="161.7" y1="433.3" x2="158.47" y2="435.38" stroke="#1b1b1b" stroke-width="2.1"/><line x1="158.47" y1="435.38" x2="156.48" y2="436.65" stroke="#8c8c8c" stroke-width="1.5"/><line x1="161.7" y1="433.3" x2="161.18" y2="429.93" stroke="#1b1b1b" stroke-width="2.1"/><line x1="161.18" y1="429.93" x2="160.87" y2="427.86" stroke="#8c8c8c" stroke-width="1.5"/><line x1="161.7" y1="433.3" x2="163.93" y2="432.37" stroke="#1b1b1b" stroke-width="2.1"/><line x1="163.93" y1="432.37" x2="165.3" y2="431.79" stroke="#8c8c8c" stroke-width="1.5"/><line x1="196.6" y1="435" x2="196.78" y2="438.84" stroke="#1b1b1b" stroke-width="2.1"/><line x1="196.78" y1="438.84" x2="196.9" y2="441.19" stroke="#8c8c8c" stroke-width="1.5"/><line x1="196.6" y1="435" x2="199.65" y2="433.47" stroke="#1b1b1b" stroke-width="2.1"/><line x1="199.65" y1="433.47" x2="201.51" y2="432.52" stroke="#8c8c8c" stroke-width="1.5"/><line x1="196.6" y1="435" x2="196.07" y2="432.64" stroke="#1b1b1b" stroke-width="2.1"/><line x1="196.07" y1="432.64" x2="195.74" y2="431.2" stroke="#8c8c8c" stroke-width="1.5"/><line x1="174.3" y1="431.3" x2="172.27" y2="428.11" stroke="#1b1b1b" stroke-width="2.1"/><line x1="172.27" y1="428.11" x2="171.03" y2="426.15" stroke="#8c8c8c" stroke-width="1.5"/><line x1="174.3" y1="431.3" x2="175.34" y2="428.91" stroke="#1b1b1b" stroke-width="2.1"/><line x1="175.34" y1="428.91" x2="175.98" y2="427.45" stroke="#8c8c8c" stroke-width="1.5"/><line x1="182.2" y1="437.5" x2="180.43" y2="440.84" stroke="#1b1b1b" stroke-width="2.1"/><line x1="180.43" y1="440.84" x2="179.35" y2="442.89" stroke="#8c8c8c" stroke-width="1.5"/><line x1="182.2" y1="437.5" x2="183.43" y2="439.8" stroke="#1b1b1b" stroke-width="2.1"/><line x1="183.43" y1="439.8" x2="184.18" y2="441.2" stroke="#8c8c8c" stroke-width="1.5"/><circle cx="156.48" cy="436.65" r="1.55" fill="url(#gH)"/><circle cx="160.87" cy="427.86" r="1.55" fill="url(#gH)"/><circle cx="165.3" cy="431.79" r="1.55" fill="url(#gH)"/><circle cx="196.9" cy="441.19" r="1.55" fill="url(#gH)"/><circle cx="201.51" cy="432.52" r="1.55" fill="url(#gH)"/><circle cx="195.74" cy="431.2" r="1.55" fill="url(#gH)"/><circle cx="171.03" cy="426.15" r="1.55" fill="url(#gH)"/><circle cx="175.98" cy="427.45" r="1.55" fill="url(#gH)"/><circle cx="179.35" cy="442.89" r="1.55" fill="url(#gH)"/><circle cx="184.18" cy="441.2" r="1.55" fill="url(#gH)"/><line x1="161.7" y1="433.3" x2="165" y2="436" stroke="#161616" stroke-width="2.6"/><line x1="165" y1="436" x2="168.3" y2="438.7" stroke="#b4200f" stroke-width="2.6"/><line x1="168.3" y1="438.7" x2="171.3" y2="435" stroke="#b4200f" stroke-width="2.6"/><line x1="171.3" y1="435" x2="174.3" y2="431.3" stroke="#161616" stroke-width="2.6"/><line x1="174.3" y1="431.3" x2="178.25" y2="434.4" stroke="#161616" stroke-width="2.6"/><line x1="178.25" y1="434.4" x2="182.2" y2="437.5" stroke="#161616" stroke-width="2.6"/><line x1="182.2" y1="437.5" x2="185.55" y2="435.2" stroke="#161616" stroke-width="2.6"/><line x1="185.55" y1="435.2" x2="188.9" y2="432.9" stroke="#b4200f" stroke-width="2.6"/><line x1="188.9" y1="432.9" x2="192.75" y2="433.95" stroke="#b4200f" stroke-width="2.6"/><line x1="192.75" y1="433.95" x2="196.6" y2="435" stroke="#161616" stroke-width="2.6"/><circle cx="161.7" cy="433.3" r="2.6" fill="url(#gC)"/><circle cx="174.3" cy="431.3" r="2.6" fill="url(#gC)"/><circle cx="182.2" cy="437.5" r="2.6" fill="url(#gC)"/><circle cx="196.6" cy="435" r="2.6" fill="url(#gC)"/><circle cx="168.3" cy="438.7" r="2.95" fill="url(#gO)"/><circle cx="188.9" cy="432.9" r="2.95" fill="url(#gO)"/></g><g><line x1="150.7" y1="410.7" x2="149.93" y2="414.47" stroke="#1b1b1b" stroke-width="2.1"/><line x1="149.93" y1="414.47" x2="149.45" y2="416.77" stroke="#8c8c8c" stroke-width="1.5"/><line x1="150.7" y1="410.7" x2="147.93" y2="408.72" stroke="#1b1b1b" stroke-width="2.1"/><line x1="147.93" y1="408.72" x2="146.23" y2="407.5" stroke="#8c8c8c" stroke-width="1.5"/><line x1="150.7" y1="410.7" x2="151.59" y2="408.45" stroke="#1b1b1b" stroke-width="2.1"/><line x1="151.59" y1="408.45" x2="152.13" y2="407.07" stroke="#8c8c8c" stroke-width="1.5"/><line x1="179.4" y1="384.3" x2="181.9" y2="387.22" stroke="#1b1b1b" stroke-width="2.1"/><line x1="181.9" y1="387.22" x2="183.43" y2="389.01" stroke="#8c8c8c" stroke-width="1.5"/><line x1="179.4" y1="384.3" x2="180.87" y2="381.22" stroke="#1b1b1b" stroke-width="2.1"/><line x1="180.87" y1="381.22" x2="181.76" y2="379.33" stroke="#8c8c8c" stroke-width="1.5"/><line x1="179.4" y1="384.3" x2="177.53" y2="382.76" stroke="#1b1b1b" stroke-width="2.1"/><line x1="177.53" y1="382.76" x2="176.39" y2="381.82" stroke="#8c8c8c" stroke-width="1.5"/><line x1="160.2" y1="399.2" x2="156.55" y2="398.19" stroke="#1b1b1b" stroke-width="2.1"/><line x1="156.55" y1="398.19" x2="154.32" y2="397.58" stroke="#8c8c8c" stroke-width="1.5"/><line x1="160.2" y1="399.2" x2="159.37" y2="396.73" stroke="#1b1b1b" stroke-width="2.1"/><line x1="159.37" y1="396.73" x2="158.86" y2="395.22" stroke="#8c8c8c" stroke-width="1.5"/><line x1="170" y1="397.4" x2="171.55" y2="400.85" stroke="#1b1b1b" stroke-width="2.1"/><line x1="171.55" y1="400.85" x2="172.5" y2="402.96" stroke="#8c8c8c" stroke-width="1.5"/><line x1="170" y1="397.4" x2="172.57" y2="397.84" stroke="#1b1b1b" stroke-width="2.1"/><line x1="172.57" y1="397.84" x2="174.14" y2="398.11" stroke="#8c8c8c" stroke-width="1.5"/><circle cx="149.45" cy="416.77" r="1.55" fill="url(#gH)"/><circle cx="146.23" cy="407.5" r="1.55" fill="url(#gH)"/><circle cx="152.13" cy="407.07" r="1.55" fill="url(#gH)"/><circle cx="183.43" cy="389.01" r="1.55" fill="url(#gH)"/><circle cx="181.76" cy="379.33" r="1.55" fill="url(#gH)"/><circle cx="176.39" cy="381.82" r="1.55" fill="url(#gH)"/><circle cx="154.32" cy="397.58" r="1.55" fill="url(#gH)"/><circle cx="158.86" cy="395.22" r="1.55" fill="url(#gH)"/><circle cx="172.5" cy="402.96" r="1.55" fill="url(#gH)"/><circle cx="174.14" cy="398.11" r="1.55" fill="url(#gH)"/><line x1="150.7" y1="410.7" x2="155.15" y2="410.2" stroke="#161616" stroke-width="2.6"/><line x1="155.15" y1="410.2" x2="159.6" y2="409.7" stroke="#b4200f" stroke-width="2.6"/><line x1="159.6" y1="409.7" x2="159.9" y2="404.45" stroke="#b4200f" stroke-width="2.6"/><line x1="159.9" y1="404.45" x2="160.2" y2="399.2" stroke="#161616" stroke-width="2.6"/><line x1="160.2" y1="399.2" x2="165.1" y2="398.3" stroke="#161616" stroke-width="2.6"/><line x1="165.1" y1="398.3" x2="170" y2="397.4" stroke="#161616" stroke-width="2.6"/><line x1="170" y1="397.4" x2="170" y2="392.8" stroke="#161616" stroke-width="2.6"/><line x1="170" y1="392.8" x2="170" y2="388.2" stroke="#b4200f" stroke-width="2.6"/><line x1="170" y1="388.2" x2="174.7" y2="386.25" stroke="#b4200f" stroke-width="2.6"/><line x1="174.7" y1="386.25" x2="179.4" y2="384.3" stroke="#161616" stroke-width="2.6"/><circle cx="150.7" cy="410.7" r="2.6" fill="url(#gC)"/><circle cx="160.2" cy="399.2" r="2.6" fill="url(#gC)"/><circle cx="170" cy="397.4" r="2.6" fill="url(#gC)"/><circle cx="179.4" cy="384.3" r="2.6" fill="url(#gC)"/><circle cx="159.6" cy="409.7" r="2.95" fill="url(#gO)"/><circle cx="170" cy="388.2" r="2.95" fill="url(#gO)"/></g><g><line x1="181.7" y1="368.5" x2="178.1" y2="369.86" stroke="#1b1b1b" stroke-width="2.1"/><line x1="178.1" y1="369.86" x2="175.9" y2="370.69" stroke="#8c8c8c" stroke-width="1.5"/><line x1="181.7" y1="368.5" x2="181.9" y2="365.1" stroke="#1b1b1b" stroke-width="2.1"/><line x1="181.9" y1="365.1" x2="182.02" y2="363.01" stroke="#8c8c8c" stroke-width="1.5"/><line x1="181.7" y1="368.5" x2="184.08" y2="368.05" stroke="#1b1b1b" stroke-width="2.1"/><line x1="184.08" y1="368.05" x2="185.53" y2="367.78" stroke="#8c8c8c" stroke-width="1.5"/><line x1="217.7" y1="384" x2="216.13" y2="387.51" stroke="#1b1b1b" stroke-width="2.1"/><line x1="216.13" y1="387.51" x2="215.16" y2="389.66" stroke="#8c8c8c" stroke-width="1.5"/><line x1="217.7" y1="384" x2="221.11" y2="384.01" stroke="#1b1b1b" stroke-width="2.1"/><line x1="221.11" y1="384.01" x2="223.2" y2="384.02" stroke="#8c8c8c" stroke-width="1.5"/><line x1="217.7" y1="384" x2="218.29" y2="381.66" stroke="#1b1b1b" stroke-width="2.1"/><line x1="218.29" y1="381.66" x2="218.65" y2="380.22" stroke="#8c8c8c" stroke-width="1.5"/><line x1="197" y1="371.2" x2="196.33" y2="367.48" stroke="#1b1b1b" stroke-width="2.1"/><line x1="196.33" y1="367.48" x2="195.92" y2="365.2" stroke="#8c8c8c" stroke-width="1.5"/><line x1="197" y1="371.2" x2="198.87" y2="369.39" stroke="#1b1b1b" stroke-width="2.1"/><line x1="198.87" y1="369.39" x2="200.01" y2="368.27" stroke="#8c8c8c" stroke-width="1.5"/><line x1="202.3" y1="380" x2="199.57" y2="382.62" stroke="#1b1b1b" stroke-width="2.1"/><line x1="199.57" y1="382.62" x2="197.9" y2="384.23" stroke="#8c8c8c" stroke-width="1.5"/><line x1="202.3" y1="380" x2="202.75" y2="382.57" stroke="#1b1b1b" stroke-width="2.1"/><line x1="202.75" y1="382.57" x2="203.02" y2="384.14" stroke="#8c8c8c" stroke-width="1.5"/><circle cx="175.9" cy="370.69" r="1.55" fill="url(#gH)"/><circle cx="182.02" cy="363.01" r="1.55" fill="url(#gH)"/><circle cx="185.53" cy="367.78" r="1.55" fill="url(#gH)"/><circle cx="215.16" cy="389.66" r="1.55" fill="url(#gH)"/><circle cx="223.2" cy="384.02" r="1.55" fill="url(#gH)"/><circle cx="218.65" cy="380.22" r="1.55" fill="url(#gH)"/><circle cx="195.92" cy="365.2" r="1.55" fill="url(#gH)"/><circle cx="200.01" cy="368.27" r="1.55" fill="url(#gH)"/><circle cx="197.9" cy="384.23" r="1.55" fill="url(#gH)"/><circle cx="203.02" cy="384.14" r="1.55" fill="url(#gH)"/><line x1="181.7" y1="368.5" x2="184.7" y2="372.25" stroke="#161616" stroke-width="2.6"/><line x1="184.7" y1="372.25" x2="187.7" y2="376" stroke="#b4200f" stroke-width="2.6"/><line x1="187.7" y1="376" x2="192.35" y2="373.6" stroke="#b4200f" stroke-width="2.6"/><line x1="192.35" y1="373.6" x2="197" y2="371.2" stroke="#161616" stroke-width="2.6"/><line x1="197" y1="371.2" x2="199.65" y2="375.6" stroke="#161616" stroke-width="2.6"/><line x1="199.65" y1="375.6" x2="202.3" y2="380" stroke="#161616" stroke-width="2.6"/><line x1="202.3" y1="380" x2="206.3" y2="378.65" stroke="#161616" stroke-width="2.6"/><line x1="206.3" y1="378.65" x2="210.3" y2="377.3" stroke="#b4200f" stroke-width="2.6"/><line x1="210.3" y1="377.3" x2="214" y2="380.65" stroke="#b4200f" stroke-width="2.6"/><line x1="214" y1="380.65" x2="217.7" y2="384" stroke="#161616" stroke-width="2.6"/><circle cx="181.7" cy="368.5" r="2.6" fill="url(#gC)"/><circle cx="197" cy="371.2" r="2.6" fill="url(#gC)"/><circle cx="202.3" cy="380" r="2.6" fill="url(#gC)"/><circle cx="217.7" cy="384" r="2.6" fill="url(#gC)"/><circle cx="187.7" cy="376" r="2.95" fill="url(#gO)"/><circle cx="210.3" cy="377.3" r="2.95" fill="url(#gO)"/></g><g><line x1="165.1" y1="358.4" x2="169.05" y2="355.95" stroke="#bcae28" stroke-width="1.5"/><line x1="169.05" y1="355.95" x2="173" y2="353.5" stroke="#b4200f" stroke-width="1.5"/><line x1="165.1" y1="358.4" x2="168.65" y2="360.5" stroke="#bcae28" stroke-width="1.5"/><line x1="168.65" y1="360.5" x2="172.2" y2="362.6" stroke="#b4200f" stroke-width="1.5"/><line x1="165.1" y1="358.4" x2="161.3" y2="353.2" stroke="#bcae28" stroke-width="1.5"/><line x1="161.3" y1="353.2" x2="157.5" y2="348" stroke="#7a1a8c" stroke-width="1.5"/><line x1="165.1" y1="358.4" x2="161.1" y2="363.2" stroke="#bcae28" stroke-width="1.5"/><line x1="161.1" y1="363.2" x2="157.1" y2="368" stroke="#1230c0" stroke-width="1.5"/><line x1="150.4" y1="376.6" x2="148.45" y2="373.9" stroke="#bcae28" stroke-width="1.5"/><line x1="148.45" y1="373.9" x2="146.5" y2="371.2" stroke="#b4200f" stroke-width="1.5"/><line x1="150.4" y1="376.6" x2="146.25" y2="379.65" stroke="#bcae28" stroke-width="1.5"/><line x1="146.25" y1="379.65" x2="142.1" y2="382.7" stroke="#b4200f" stroke-width="1.5"/><line x1="150.4" y1="376.6" x2="154.8" y2="381.5" stroke="#bcae28" stroke-width="1.5"/><line x1="154.8" y1="381.5" x2="159.2" y2="386.4" stroke="#7a1a8c" stroke-width="1.5"/><line x1="150.4" y1="376.6" x2="153.75" y2="372.3" stroke="#bcae28" stroke-width="1.5"/><line x1="153.75" y1="372.3" x2="157.1" y2="368" stroke="#1230c0" stroke-width="1.5"/><circle cx="157.5" cy="348" r="3.2" fill="url(#gF)"/><circle cx="159.2" cy="386.4" r="3.2" fill="url(#gF)"/><circle cx="173" cy="353.5" r="3.3" fill="url(#gO)"/><circle cx="172.2" cy="362.6" r="3.3" fill="url(#gO)"/><circle cx="146.5" cy="371.2" r="3.3" fill="url(#gO)"/><circle cx="142.1" cy="382.7" r="3.3" fill="url(#gO)"/><circle cx="157.1" cy="368" r="3.3" fill="url(#gN)"/><circle cx="165.1" cy="358.4" r="3.65" fill="url(#gS)"/><circle cx="150.4" cy="376.6" r="3.65" fill="url(#gS)"/></g><g><line x1="196.3" y1="344.3" x2="194" y2="339.3" stroke="#bcae28" stroke-width="1.5"/><line x1="194" y1="339.3" x2="191.7" y2="334.3" stroke="#b4200f" stroke-width="1.5"/><line x1="196.3" y1="344.3" x2="199.3" y2="342.2" stroke="#bcae28" stroke-width="1.5"/><line x1="199.3" y1="342.2" x2="202.3" y2="340.1" stroke="#b4200f" stroke-width="1.5"/><line x1="196.3" y1="344.3" x2="191.3" y2="348.2" stroke="#bcae28" stroke-width="1.5"/><line x1="191.3" y1="348.2" x2="186.3" y2="352.1" stroke="#7a1a8c" stroke-width="1.5"/><line x1="196.3" y1="344.3" x2="200.3" y2="348.2" stroke="#bcae28" stroke-width="1.5"/><line x1="200.3" y1="348.2" x2="204.3" y2="352.1" stroke="#1230c0" stroke-width="1.5"/><line x1="212.1" y1="361" x2="209.9" y2="364.35" stroke="#bcae28" stroke-width="1.5"/><line x1="209.9" y1="364.35" x2="207.7" y2="367.7" stroke="#b4200f" stroke-width="1.5"/><line x1="212.1" y1="361" x2="214.2" y2="365" stroke="#bcae28" stroke-width="1.5"/><line x1="214.2" y1="365" x2="216.3" y2="369" stroke="#b4200f" stroke-width="1.5"/><line x1="212.1" y1="361" x2="217.9" y2="357.65" stroke="#bcae28" stroke-width="1.5"/><line x1="217.9" y1="357.65" x2="223.7" y2="354.3" stroke="#7a1a8c" stroke-width="1.5"/><line x1="212.1" y1="361" x2="208.2" y2="356.55" stroke="#bcae28" stroke-width="1.5"/><line x1="208.2" y1="356.55" x2="204.3" y2="352.1" stroke="#1230c0" stroke-width="1.5"/><circle cx="186.3" cy="352.1" r="3.2" fill="url(#gF)"/><circle cx="223.7" cy="354.3" r="3.2" fill="url(#gF)"/><circle cx="191.7" cy="334.3" r="3.3" fill="url(#gO)"/><circle cx="202.3" cy="340.1" r="3.3" fill="url(#gO)"/><circle cx="207.7" cy="367.7" r="3.3" fill="url(#gO)"/><circle cx="216.3" cy="369" r="3.3" fill="url(#gO)"/><circle cx="204.3" cy="352.1" r="3.3" fill="url(#gN)"/><circle cx="196.3" cy="344.3" r="3.65" fill="url(#gS)"/><circle cx="212.1" cy="361" r="3.65" fill="url(#gS)"/></g><g><line x1="203" y1="400" x2="208" y2="398.65" stroke="#bcae28" stroke-width="1.5"/><line x1="208" y1="398.65" x2="213" y2="397.3" stroke="#b4200f" stroke-width="1.5"/><line x1="203" y1="400" x2="204.35" y2="403.35" stroke="#bcae28" stroke-width="1.5"/><line x1="204.35" y1="403.35" x2="205.7" y2="406.7" stroke="#b4200f" stroke-width="1.5"/><line x1="203" y1="400" x2="200" y2="394.15" stroke="#bcae28" stroke-width="1.5"/><line x1="200" y1="394.15" x2="197" y2="388.3" stroke="#7a1a8c" stroke-width="1.5"/><line x1="203" y1="400" x2="198.35" y2="403" stroke="#bcae28" stroke-width="1.5"/><line x1="198.35" y1="403" x2="193.7" y2="406" stroke="#1230c0" stroke-width="1.5"/><line x1="183" y1="412.3" x2="180.75" y2="409.65" stroke="#bcae28" stroke-width="1.5"/><line x1="180.75" y1="409.65" x2="178.5" y2="407" stroke="#b4200f" stroke-width="1.5"/><line x1="183" y1="412.3" x2="178.85" y2="413.75" stroke="#bcae28" stroke-width="1.5"/><line x1="178.85" y1="413.75" x2="174.7" y2="415.2" stroke="#b4200f" stroke-width="1.5"/><line x1="183" y1="412.3" x2="185.5" y2="418.5" stroke="#bcae28" stroke-width="1.5"/><line x1="185.5" y1="418.5" x2="188" y2="424.7" stroke="#7a1a8c" stroke-width="1.5"/><line x1="183" y1="412.3" x2="188.35" y2="409.15" stroke="#bcae28" stroke-width="1.5"/><line x1="188.35" y1="409.15" x2="193.7" y2="406" stroke="#1230c0" stroke-width="1.5"/><circle cx="197" cy="388.3" r="3.2" fill="url(#gF)"/><circle cx="188" cy="424.7" r="3.2" fill="url(#gF)"/><circle cx="213" cy="397.3" r="3.3" fill="url(#gO)"/><circle cx="205.7" cy="406.7" r="3.3" fill="url(#gO)"/><circle cx="178.5" cy="407" r="3.3" fill="url(#gO)"/><circle cx="174.7" cy="415.2" r="3.3" fill="url(#gO)"/><circle cx="193.7" cy="406" r="3.3" fill="url(#gN)"/><circle cx="203" cy="400" r="3.65" fill="url(#gS)"/><circle cx="183" cy="412.3" r="3.65" fill="url(#gS)"/></g></g>
<filter id="soft" x="-5%" y="-5%" width="110%" height="110%"><feGaussianBlur stdDeviation="0.6"/></filter>
</defs>
<rect width="600" height="491" fill="#fff"/>
<rect x="0" y="4.5" width="598.4" height="483.8" fill="url(#bg)"/>
<rect x="593" y="4.5" width="5.4" height="483.8" fill="#fff" opacity="0.2"/>
<g filter="url(#soft)">
<rect x="252" y="48.3" width="7.4" height="189" fill="#a2d3c0"/>
<rect x="252.8" y="289.4" width="7.4" height="190" fill="#8cc6b8"/>
<use href="#panel"/>
<use href="#panel" transform="translate(0 242.3)"/>
<g><path d="M404.6 47.2 C404.63 49.33 404.67 55.87 404.8 60 C404.93 64.13 405.23 68.67 405.4 72 C405.57 75.33 405.7 77.25 405.8 80 C405.9 82.75 406.07 85.67 406 88.5 C405.93 91.33 405.65 94.25 405.4 97 C405.15 99.75 404.5 102.33 404.5 105 C404.5 107.67 404.98 110.5 405.4 113 C405.82 115.5 406.83 116.72 407 120 C407.17 123.28 406.7 128.45 406.4 132.7 C406.1 136.95 406.02 141.25 405.2 145.5 C404.38 149.75 401.83 153.97 401.5 158.2 C401.17 162.43 402.58 166.67 403.2 170.9 C403.82 175.13 404.93 179.35 405.2 183.6 C405.47 187.85 404.8 192.15 404.8 196.4 C404.8 200.65 405.47 204.87 405.2 209.1 C404.93 213.33 403.83 218.07 403.2 221.8 C402.57 225.53 400.85 228.87 401.4 231.5 C401.95 234.13 405.65 236.58 406.5 237.6 L418 237.6 L418 47.2 Z" fill="#f6c444"/><path d="M409.6 47.2 C409.57 49.33 409.4 55.87 409.4 60 C409.4 64.13 409.47 68.67 409.6 72 C409.73 75.33 409.8 77.25 410.2 80 C410.6 82.75 412.03 85.67 412 88.5 C411.97 91.33 410.53 94.25 410 97 C409.47 99.75 408.87 102.33 408.8 105 C408.73 107.67 409.23 110.5 409.6 113 C409.97 115.5 410.87 116.72 411 120 C411.13 123.28 410.73 128.45 410.4 132.7 C410.07 136.95 409.65 141.25 409 145.5 C408.35 149.75 406.58 153.97 406.5 158.2 C406.42 162.43 407.92 166.67 408.5 170.9 C409.08 175.13 409.82 179.35 410 183.6 C410.18 187.85 409.67 192.15 409.6 196.4 C409.53 200.65 409.95 204.87 409.6 209.1 C409.25 213.33 408.17 218.07 407.5 221.8 C406.83 225.53 405.1 228.87 405.6 231.5 C406.1 234.13 409.68 236.58 410.5 237.6 L418 237.6 L418 47.2 Z" fill="#9b65d1"/><rect x="417.3" y="47.2" width="29.2" height="190.4" fill="#a25129"/><circle cx="402" cy="49.6" r="1.95" fill="#0e0e0e"/><circle cx="403.2" cy="53.8" r="1.75" fill="#4379c0"/><circle cx="402" cy="57.6" r="1.95" fill="#0e0e0e"/><circle cx="404.2" cy="85.8" r="1.95" fill="#0e0e0e"/><circle cx="406.5" cy="90.2" r="1.75" fill="#4379c0"/><circle cx="403.8" cy="93.7" r="1.95" fill="#0e0e0e"/><circle cx="402.3" cy="124.6" r="1.95" fill="#0e0e0e"/><circle cx="404.7" cy="128.1" r="1.75" fill="#4379c0"/><circle cx="402.3" cy="131.5" r="1.95" fill="#0e0e0e"/><circle cx="403.3" cy="142.9" r="1.95" fill="#0e0e0e"/><circle cx="405.2" cy="146.7" r="1.75" fill="#4379c0"/><circle cx="402.3" cy="150" r="1.95" fill="#0e0e0e"/><circle cx="401.5" cy="165.3" r="1.95" fill="#0e0e0e"/><circle cx="403.1" cy="169.6" r="1.75" fill="#4379c0"/><circle cx="400.8" cy="173.4" r="1.95" fill="#0e0e0e"/><circle cx="401.5" cy="182.4" r="1.95" fill="#0e0e0e"/><circle cx="403.1" cy="186.7" r="1.75" fill="#4379c0"/><circle cx="401.5" cy="191.3" r="1.95" fill="#0e0e0e"/><circle cx="401.5" cy="200.9" r="1.95" fill="#0e0e0e"/><circle cx="403.1" cy="204.8" r="1.75" fill="#4379c0"/><circle cx="400.8" cy="209.1" r="1.95" fill="#0e0e0e"/><circle cx="398.2" cy="221.3" r="1.95" fill="#0e0e0e"/><circle cx="400.3" cy="224.9" r="1.75" fill="#4379c0"/><circle cx="397.7" cy="228.9" r="1.95" fill="#0e0e0e"/></g>
<ellipse cx="403.5" cy="335" rx="8.5" ry="8.8" fill="#fff" opacity="0.4"/>
<g><path d="M392.8 291.6 L398.8 294 L404.2 296.8 L410.7 299.6 L416.4 298.2 L416.4 305.4 L412.4 303.4 L408.2 301.3 L404.2 299.7 L398.3 297.6 L392.8 295.7 Z" fill="#f6c444" stroke="#f6c444" stroke-width="2.0" stroke-linejoin="round"/><path d="M415.9 300.8 L413.3 302.3 L412.5 305.4 L413.3 308.3 L408.3 310.3 L403.9 312.8 L402.7 318.8 L401.7 326.8 L399.6 338.4 L396.1 345.3 L392.5 350.4 L394.7 353.4 L399.3 351.4 L405.2 346.5 L408.3 340.3 L410.8 334.3 L412.8 326.2 L413.9 320.8 L415.9 317.8 Z" fill="#f6c444" stroke="#f6c444" stroke-width="2.0" stroke-linejoin="round"/><path d="M416.4 315.6 L414.4 322.6 L412.8 330.6 L413.4 340.6 L414.2 350.6 L413.4 357.6 L416.4 356.6 Z" fill="#f6c444" stroke="#f6c444" stroke-width="2.0" stroke-linejoin="round"/><path d="M396.6 366.1 L398.4 364.1 L402.4 361.7 L406.4 360.1 L411.4 358.7 L416 357.7 L416 379.9 L413.6 377.4 L414 373.4 L412 370.7 L407.5 369.2 L402.4 368.9 L398.6 368.6 L396.8 367.7 Z" fill="#f6c444" stroke="#f6c444" stroke-width="2.0" stroke-linejoin="round"/><path d="M391 393.6 L393.2 391 L396.7 387.8 L400.6 384.6 L405.2 381.8 L410.7 379.4 L415.8 377.2 L415.8 398.8 L412.2 394.8 L411.8 389.8 L411.6 386.4 L408.2 389.6 L404 392.6 L398.2 394.8 L392.8 396 L391.2 395.2 Z" fill="#f6c444" stroke="#f6c444" stroke-width="2.0" stroke-linejoin="round"/><path d="M416.1 393 L412.1 395.5 L410.5 400.5 L408.3 406.5 L406.5 412 L402.9 415 L401.7 419.2 L403.5 423.4 L409.1 425.8 L411.3 429.5 L410.7 434.5 L406.5 441 L401.9 447 L401.5 451.5 L404.5 456 L403 460.5 L399 465 L395.1 470.5 L398 472.8 L403.5 474.2 L407 476.8 L409 480.4 L416.1 480.2 Z" fill="#f6c444" stroke="#f6c444" stroke-width="2.0" stroke-linejoin="round"/><path d="M388.2 290.6 L393 290.2 L395 293 L393.4 295.8 L388.6 295 Z" fill="#f6c444" stroke="#f6c444" stroke-width="1" stroke-linejoin="round"/><path d="M392.6 368.6 L398 364.6 L399.6 368.8 Z" fill="#f6c444" stroke="#f6c444" stroke-width="1.4" stroke-linejoin="round"/><path d="M387 396.2 L393 391.6 L394.6 397 Z" fill="#f6c444" stroke="#f6c444" stroke-width="1.4" stroke-linejoin="round"/><path d="M396 370.4 L409 371.2" stroke="#f6c444" stroke-width="1.4" fill="none"/><path d="M392 398.0 L400 396.9 L406 394.6" stroke="#f6c444" stroke-width="1.4" fill="none"/><path d="M410.6 317 L414.4 324" stroke="#f6c444" stroke-width="1.8" fill="none"/><path d="M394 290.2 L400 292.6 L405.4 295.4 L411.9 298.2 L417.6 296.8 L417.6 304 L413.6 302 L409.4 299.9 L405.4 298.3 L399.5 296.2 L394 294.3 Z" fill="#9b65d1"/><path d="M417.6 300 L415 301.5 L414.2 304.6 L415 307.5 L410 309.5 L405.6 312 L404.4 318 L403.4 326 L401.3 337.6 L397.8 344.5 L394.2 349.6 L396.4 352.6 L401 350.6 L406.9 345.7 L410 339.5 L412.5 333.5 L414.5 325.4 L415.6 320 L417.6 317 Z" fill="#9b65d1"/><path d="M417.6 315 L415.6 322 L414 330 L414.6 340 L415.4 350 L414.6 357 L417.6 356 Z" fill="#9b65d1"/><path d="M398.2 367.2 L400 365.2 L404 362.8 L408 361.2 L413 359.8 L417.6 358.8 L417.6 381 L415.2 378.5 L415.6 374.5 L413.6 371.8 L409.1 370.3 L404 370 L400.2 369.7 L398.4 368.8 Z" fill="#9b65d1"/><path d="M392.8 394.8 L395 392.2 L398.5 389 L402.4 385.8 L407 383 L412.5 380.6 L417.6 378.4 L417.6 400 L414 396 L413.6 391 L413.4 387.6 L410 390.8 L405.8 393.8 L400 396 L394.6 397.2 L393 396.4 Z" fill="#9b65d1"/><path d="M417.6 392 L413.6 394.5 L412 399.5 L409.8 405.5 L408 411 L404.4 414 L403.2 418.2 L405 422.4 L410.6 424.8 L412.8 428.5 L412.2 433.5 L408 440 L403.4 446 L403 450.5 L406 455 L404.5 459.5 L400.5 464 L396.6 469.5 L399.5 471.8 L405 473.2 L408.5 475.8 L410.5 479.4 L417.6 479.2 Z" fill="#9b65d1"/><path d="M410.8 317.4 L414.2 323.6" stroke="#f6c444" stroke-width="1.3" fill="none"/><path d="M409.0 328.6 L411.0 332.4" stroke="#f6c444" stroke-width="1.3" fill="none"/><path d="M413.0 338.6 L415.4 345.6" stroke="#f6c444" stroke-width="1.6" fill="none"/><path d="M414.4 382.6 L415.4 387.6" stroke="#f6c444" stroke-width="1.3" fill="none"/><rect x="417.3" y="289.8" width="29.8" height="189.4" fill="#a25129"/><circle cx="411.2" cy="301.4" r="1.95" fill="#0e0e0e"/><circle cx="413.1" cy="304.9" r="1.75" fill="#4379c0"/><circle cx="410.7" cy="308.1" r="1.95" fill="#0e0e0e"/><circle cx="406.6" cy="329.4" r="1.95" fill="#0e0e0e"/><circle cx="408.6" cy="333.2" r="1.75" fill="#4379c0"/><circle cx="406.2" cy="336.7" r="1.95" fill="#0e0e0e"/><circle cx="411.9" cy="369.6" r="1.95" fill="#0e0e0e"/><circle cx="414.4" cy="373.6" r="1.75" fill="#4379c0"/><circle cx="411.9" cy="376.9" r="1.95" fill="#0e0e0e"/><circle cx="411.1" cy="392" r="1.95" fill="#0e0e0e"/><circle cx="413" cy="395.4" r="1.75" fill="#4379c0"/><circle cx="410.2" cy="398.6" r="1.95" fill="#0e0e0e"/><circle cx="409.4" cy="400.8" r="1.75" fill="#4379c0"/><circle cx="407.4" cy="402.8" r="1.95" fill="#0e0e0e"/><circle cx="408.4" cy="406.6" r="1.75" fill="#4379c0"/><circle cx="406.4" cy="410.4" r="1.95" fill="#0e0e0e"/><circle cx="410.3" cy="434" r="1.95" fill="#0e0e0e"/><circle cx="409.2" cy="437.2" r="1.75" fill="#4379c0"/><circle cx="406.4" cy="440.3" r="1.95" fill="#0e0e0e"/><circle cx="403.8" cy="450.7" r="1.95" fill="#0e0e0e"/><circle cx="405.6" cy="454.2" r="1.75" fill="#4379c0"/><circle cx="403" cy="458.5" r="1.95" fill="#0e0e0e"/><circle cx="401" cy="461.6" r="1.75" fill="#4379c0"/><circle cx="398.6" cy="464.3" r="1.95" fill="#0e0e0e"/><circle cx="397" cy="467.4" r="1.75" fill="#4379c0"/><circle cx="394.6" cy="470.2" r="1.95" fill="#0e0e0e"/></g>
<use href="#ctop"/>
<use href="#ctop" transform="translate(145 0)"/>
<use href="#cbot"/>
<use href="#cbot" transform="translate(139.6 0)"/>
<g opacity="0.8"><polygon points="156.58,446.43 157.17,444.64 157.97,442.95 158.94,441.38 160.09,439.92 161.39,438.57 162.83,437.31 164.39,436.13 166.07,435 167.78,433.82 169.63,432.67 171.62,431.57 173.75,430.5 176,429.48 178.38,428.47 180.87,427.46 183.48,426.49 186.22,425.56 189.08,424.67 192.05,423.82 195.13,423.01 198.32,422.25 201.6,421.53 204.98,420.86 208.45,420.23 212,419.62 215.62,419.06 219.32,418.55 223.07,418.09 226.89,417.68 230.76,417.32 234.68,417.01 238.63,416.76 242.62,416.56 246.63,416.42 250.65,416.31 254.69,416.24 258.73,416.22 262.77,416.26 266.8,416.35 270.81,416.49 274.8,416.69 278.76,416.95 282.68,417.25 286.56,417.61 290.38,418.02 294.16,418.45 297.86,418.94 301.5,419.47 305.06,420.05 308.54,420.68 311.94,421.35 315.24,422.08 318.44,422.84 321.54,423.62 324.54,424.42 327.43,425.27 330.21,426.17 332.86,427.1 335.39,428.07 337.79,429.07 340.07,430.1 342.22,431.18 344.23,432.29 346.11,433.45 343.29,437.33 341.73,436.13 340.01,434.94 338.12,433.76 336.08,432.6 333.88,431.46 331.53,430.36 329.04,429.29 326.41,428.24 323.66,427.24 320.77,426.26 317.77,425.34 314.65,424.49 311.42,423.68 308.09,422.92 304.66,422.21 301.15,421.54 297.56,420.92 293.9,420.34 290.17,419.82 286.37,419.38 282.53,418.99 278.63,418.66 274.7,418.38 270.74,418.15 266.75,417.98 262.74,417.86 258.72,417.79 254.7,417.78 250.69,417.82 246.68,417.94 242.69,418.13 238.73,418.38 234.81,418.68 230.92,419.03 227.08,419.43 223.29,419.89 219.57,420.39 215.91,420.95 212.33,421.55 208.82,422.21 205.41,422.94 202.1,423.72 198.88,424.54 195.78,425.4 192.78,426.31 189.9,427.25 187.15,428.23 184.52,429.24 182.03,430.29 179.68,431.36 177.49,432.5 175.46,433.68 173.59,434.88 171.89,436.09 170.35,437.31 168.99,438.52 167.9,439.84 167.02,441.14 166.33,442.4 165.84,443.58 165.54,444.69 165.39,445.7 165.4,446.6 165.53,447.4" fill="#8a5cbc"/><polygon points="352.8,447.2 343.2,439.6 339.6,430.6 347.0,433.6 355.2,433.2" fill="#8a5cbc"/><polygon points="357.11,450.31 356.49,452.18 355.65,453.95 354.59,455.61 353.33,457.15 351.91,458.59 350.33,459.95 348.6,461.23 346.75,462.48 344.77,463.7 342.64,464.87 340.36,466 337.94,467.08 335.37,468.11 332.67,469.1 329.84,470.08 326.89,471.04 323.81,471.96 320.6,472.83 317.27,473.66 313.83,474.43 310.29,475.15 306.64,475.82 302.9,476.44 299.07,477 295.16,477.54 291.19,478.02 287.15,478.46 283.05,478.83 278.9,479.14 274.7,479.4 270.48,479.59 266.23,479.72 261.96,479.79 257.68,479.8 253.4,479.79 249.13,479.71 244.88,479.58 240.64,479.39 236.44,479.13 232.28,478.82 228.17,478.44 224.11,478.01 220.12,477.52 216.2,476.97 212.35,476.41 208.59,475.79 204.92,475.12 201.35,474.39 197.88,473.62 194.53,472.79 191.3,471.92 188.19,471 185.2,470.09 182.34,469.12 179.61,468.11 177.03,467.06 174.59,465.97 172.3,464.85 170.13,463.71 168.12,462.53 166.25,461.29 164.56,459.99 163.05,458.6 161.71,457.15 165.99,453.85 166.9,455.06 168.01,456.29 169.28,457.57 170.74,458.88 172.39,460.18 174.24,461.48 176.28,462.73 178.5,463.94 180.89,465.13 183.45,466.29 186.15,467.41 189.01,468.5 192.02,469.51 195.17,470.46 198.45,471.37 201.84,472.24 205.35,473.05 208.96,473.82 212.67,474.53 216.47,475.19 220.36,475.75 224.32,476.26 228.34,476.71 232.43,477.1 236.56,477.44 240.74,477.71 244.94,477.92 249.18,478.08 253.42,478.17 257.68,478.19 261.93,478.12 266.17,477.99 270.4,477.8 274.59,477.55 278.75,477.23 282.87,476.86 286.93,476.43 290.93,475.94 294.87,475.4 298.72,474.78 302.49,474.09 306.16,473.34 309.73,472.54 313.19,471.69 316.53,470.79 319.76,469.85 322.85,468.86 325.81,467.83 328.62,466.76 331.27,465.63 333.74,464.43 336.05,463.2 338.19,461.95 340.14,460.68 341.91,459.4 343.49,458.12 344.85,456.81 345.98,455.5 346.9,454.22 347.61,453 348.11,451.84 348.44,450.78 348.61,449.81 348.62,448.93" fill="#8a5cbc"/><polygon points="161.6,448.6 157.6,456.0 164.0,455.4 167.4,458.6 173.0,456.4" fill="#8a5cbc"/></g>
<g><polygon points="109.36,432.17 110.09,431.33 110.87,430.53 111.7,429.76 112.58,429.04 113.49,428.35 114.45,427.7 115.44,427.1 116.47,426.53 117.54,426.01 118.63,425.53 119.75,425.09 120.9,424.69 122.07,424.34 123.26,424.04 124.47,423.78 125.69,423.56 126.92,423.39 128.17,423.27 129.41,423.2 130.67,423.17 131.92,423.19 133.17,423.25 134.41,423.37 135.64,423.52 136.86,423.73 138.07,423.98 139.26,424.27 140.42,424.61 141.57,424.99 142.68,425.41 143.77,425.87 144.83,426.38 145.85,426.92 146.84,427.5 147.78,428.12 148.69,428.77 149.55,429.46 150.37,430.18 151.14,430.93 151.86,431.71 152.53,432.52 153.15,433.36 153.71,434.22 154.22,435.11 154.67,436.01 155.06,436.94 155.39,437.89 155.66,438.86 153.89,439.19 153.75,438.31 153.54,437.44 153.28,436.58 152.95,435.72 152.55,434.87 152.09,434.04 151.57,433.22 151,432.42 150.36,431.65 149.67,430.9 148.92,430.19 148.12,429.5 147.27,428.85 146.37,428.23 145.43,427.65 144.45,427.11 143.44,426.61 142.38,426.16 141.3,425.75 140.18,425.39 139.05,425.07 137.89,424.8 136.71,424.58 135.52,424.42 134.32,424.3 133.11,424.23 131.9,424.22 130.69,424.25 129.49,424.34 128.29,424.47 127.11,424.66 125.94,424.89 124.79,425.18 123.67,425.51 122.57,425.89 121.5,426.31 120.46,426.78 119.46,427.28 118.5,427.83 117.59,428.42 116.72,429.03 115.9,429.69 115.13,430.37 114.42,431.08 113.76,431.81 113.16,432.56 112.62,433.34 112.14,434.12" fill="#c0672e" opacity="1"/><polygon points="155.52,443.08 152.16,438.11 156.88,437.23" fill="#c0672e" opacity="1"/><polygon points="105.87,439.62 105.89,440.61 105.99,441.6 106.14,442.56 106.36,443.52 106.64,444.45 106.98,445.37 107.37,446.26 107.82,447.13 108.33,447.98 108.89,448.8 109.49,449.6 110.15,450.38 110.86,451.12 111.6,451.84 112.4,452.52 113.23,453.18 114.11,453.81 115.02,454.4 115.97,454.96 116.96,455.49 117.97,455.98 119.02,456.44 120.1,456.86 121.2,457.24 122.32,457.59 123.47,457.9 124.63,458.17 125.81,458.4 127.01,458.59 128.21,458.74 129.43,458.84 130.65,458.91 131.87,458.94 133.1,458.92 134.32,458.87 135.53,458.77 136.74,458.63 137.94,458.45 139.13,458.23 140.3,457.97 141.46,457.67 142.59,457.33 143.71,456.96 144.79,456.54 145.86,456.08 146.89,455.59 147.89,455.06 148.86,454.5 147.48,452.53 146.68,453.15 145.83,453.74 144.93,454.29 144,454.81 143.02,455.3 142.01,455.74 140.97,456.15 139.9,456.52 138.8,456.84 137.68,457.12 136.54,457.36 135.39,457.55 134.22,457.7 133.04,457.8 131.86,457.86 130.68,457.87 129.49,457.83 128.31,457.75 127.14,457.62 125.98,457.44 124.83,457.22 123.71,456.96 122.6,456.65 121.52,456.3 120.46,455.9 119.44,455.47 118.45,455 117.49,454.49 116.58,453.94 115.71,453.36 114.88,452.75 114.1,452.11 113.37,451.44 112.69,450.74 112.06,450.02 111.49,449.29 110.98,448.53 110.52,447.76 110.13,446.99 109.79,446.2 109.52,445.41 109.3,444.61 109.15,443.82 109.05,443.03 109.02,442.24 109.04,441.47 109.12,440.7 109.25,439.95" fill="#c0672e" opacity="1"/><polygon points="151.55,451.15 148.42,456.27 145.67,452.34" fill="#c0672e" opacity="1"/></g>
<g><polygon points="356.94,444.11 356.47,443.1 356.08,442.08 355.77,441.04 355.53,440 355.38,438.95 355.31,437.9 355.33,436.85 355.42,435.81 355.59,434.78 355.85,433.77 356.17,432.77 356.58,431.79 357.05,430.84 357.6,429.91 358.22,429.01 358.9,428.13 359.64,427.29 360.45,426.49 361.32,425.72 362.24,424.98 363.21,424.29 364.24,423.63 365.31,423.02 366.42,422.45 367.58,421.92 368.77,421.44 370,421.01 371.26,420.63 372.55,420.29 373.86,420.01 375.19,419.78 376.53,419.6 377.89,419.47 379.26,419.39 380.62,419.37 381.99,419.39 383.36,419.48 384.71,419.61 386.06,419.8 387.38,420.03 388.69,420.32 389.98,420.66 391.24,421.05 392.46,421.49 393.65,421.97 394.81,422.5 395.92,423.07 396.99,423.69 396.13,425.04 395.15,424.43 394.12,423.85 393.05,423.32 391.93,422.83 390.78,422.38 389.58,421.98 388.36,421.64 387.11,421.34 385.84,421.09 384.55,420.9 383.25,420.76 381.94,420.67 380.62,420.63 379.3,420.65 377.99,420.73 376.68,420.85 375.39,421.03 374.11,421.27 372.86,421.55 371.63,421.88 370.43,422.27 369.26,422.7 368.13,423.18 367.05,423.7 366,424.27 365.01,424.87 364.07,425.52 363.19,426.2 362.36,426.91 361.59,427.65 360.89,428.42 360.26,429.21 359.69,430.02 359.19,430.85 358.76,431.7 358.4,432.55 358.11,433.41 357.9,434.28 357.75,435.15 357.68,436.01 357.67,436.88 357.74,437.73 357.88,438.58 358.08,439.42 358.35,440.24 358.68,441.05 359.09,441.85 359.55,442.63" fill="#c0672e" opacity="1"/><polygon points="400.35,426.79 393.95,425.67 396.64,421.45" fill="#c0672e" opacity="1"/><polygon points="403.62,430.14 404.11,431.1 404.52,432.08 404.85,433.07 405.11,434.08 405.28,435.1 405.38,436.12 405.4,437.15 405.33,438.17 405.19,439.18 404.96,440.19 404.66,441.18 404.28,442.15 403.83,443.11 403.31,444.04 402.71,444.95 402.05,445.83 401.32,446.67 400.53,447.49 399.67,448.27 398.76,449.02 397.8,449.73 396.78,450.39 395.71,451.02 394.6,451.6 393.44,452.13 392.25,452.62 391.02,453.06 389.76,453.45 388.47,453.79 387.16,454.08 385.83,454.32 384.48,454.5 383.12,454.63 381.75,454.71 380.38,454.74 379,454.71 377.64,454.62 376.28,454.48 374.93,454.29 373.6,454.05 372.29,453.75 371,453.41 369.75,453.01 368.52,452.56 367.33,452.07 366.18,451.53 365.07,450.94 364.01,450.31 364.87,448.96 365.86,449.56 366.89,450.13 367.97,450.65 369.09,451.13 370.24,451.56 371.44,451.95 372.66,452.29 373.9,452.58 375.17,452.82 376.46,453.01 377.76,453.15 379.07,453.23 380.38,453.26 381.69,453.24 383.01,453.17 384.31,453.05 385.6,452.87 386.87,452.64 388.12,452.36 389.35,452.03 390.55,451.66 391.72,451.24 392.84,450.77 393.93,450.25 394.98,449.7 395.97,449.1 396.92,448.47 397.81,447.8 398.65,447.1 399.43,446.37 400.14,445.61 400.8,444.83 401.38,444.03 401.9,443.2 402.36,442.36 402.74,441.51 403.05,440.64 403.3,439.77 403.47,438.89 403.57,438.01 403.6,437.13 403.57,436.25 403.46,435.37 403.28,434.5 403.03,433.64 402.72,432.79 402.33,431.95 401.88,431.13" fill="#c0672e" opacity="1"/><polygon points="360.65,447.21 367.05,448.33 364.36,452.55" fill="#c0672e" opacity="1"/></g>
<path d="M415.96 85.03 A11 13.5 0 0 0 395.97 82.45" fill="none" stroke="#de4238" stroke-width="2"/><polygon points="394.56,88.59 393.07,81.45 398.57,84.05" fill="#de4238"/><path d="M394.83 92.47 A11 13.5 0 0 0 415.03 95.95" fill="none" stroke="#44a24a" stroke-width="2"/><polygon points="416.44,89.81 412.43,94.35 417.93,96.95" fill="#44a24a"/>
<path d="M417.34 331.66 A11.5 10.8 0 0 0 396.44 329.6" fill="none" stroke="#de4238" stroke-width="1.4"/><polygon points="394.96,334.51 394.12,328.8 398.52,330.88" fill="#de4238"/><path d="M395.24 337.61 A11.5 10.8 0 0 0 416.36 340.4" fill="none" stroke="#44a24a" stroke-width="1.4"/><polygon points="417.84,335.49 414.28,339.12 418.68,341.2" fill="#44a24a"/>
<g><circle cx="465.2" cy="118.9" r="6.95" fill="url(#gL2)"/><circle cx="464.7" cy="165.1" r="5.9" fill="url(#gK)"/><circle cx="463" cy="184.5" r="5.9" fill="url(#gK)"/><circle cx="470" cy="175.2" r="5.9" fill="url(#gL2)"/><circle cx="465.1" cy="223.5" r="5.9" fill="url(#gK)"/><circle cx="462.8" cy="249" r="5.9" fill="url(#gK)"/><circle cx="472.9" cy="243" r="5.8" fill="url(#gL2)"/><circle cx="474.2" cy="232.2" r="5.8" fill="url(#gL2)"/><g><line x1="542.2" y1="124" x2="545.75" y2="120.4" stroke="#bcae28" stroke-width="1.35"/><line x1="545.75" y1="120.4" x2="549.3" y2="116.8" stroke="#b4200f" stroke-width="1.35"/><line x1="542.2" y1="124" x2="545" y2="126.25" stroke="#bcae28" stroke-width="1.35"/><line x1="545" y1="126.25" x2="547.8" y2="128.5" stroke="#b4200f" stroke-width="1.35"/><line x1="542.2" y1="124" x2="536.25" y2="120.65" stroke="#bcae28" stroke-width="1.35"/><line x1="536.25" y1="120.65" x2="530.3" y2="117.3" stroke="#7a1a8c" stroke-width="1.35"/><line x1="542.2" y1="124" x2="539.45" y2="129.4" stroke="#bcae28" stroke-width="1.35"/><line x1="539.45" y1="129.4" x2="536.7" y2="134.8" stroke="#1230c0" stroke-width="1.35"/><line x1="530.3" y1="144.3" x2="526.9" y2="143.75" stroke="#bcae28" stroke-width="1.35"/><line x1="526.9" y1="143.75" x2="523.5" y2="143.2" stroke="#b4200f" stroke-width="1.35"/><line x1="530.3" y1="144.3" x2="527.65" y2="148.05" stroke="#bcae28" stroke-width="1.35"/><line x1="527.65" y1="148.05" x2="525" y2="151.8" stroke="#b4200f" stroke-width="1.35"/><line x1="530.3" y1="144.3" x2="535.75" y2="149.15" stroke="#bcae28" stroke-width="1.35"/><line x1="535.75" y1="149.15" x2="541.2" y2="154" stroke="#7a1a8c" stroke-width="1.35"/><line x1="530.3" y1="144.3" x2="533.5" y2="139.55" stroke="#bcae28" stroke-width="1.35"/><line x1="533.5" y1="139.55" x2="536.7" y2="134.8" stroke="#1230c0" stroke-width="1.35"/><circle cx="530.3" cy="117.3" r="2.88" fill="url(#gF)"/><circle cx="541.2" cy="154" r="2.88" fill="url(#gF)"/><circle cx="549.3" cy="116.8" r="2.97" fill="url(#gO)"/><circle cx="547.8" cy="128.5" r="2.97" fill="url(#gO)"/><circle cx="523.5" cy="143.2" r="2.97" fill="url(#gO)"/><circle cx="525" cy="151.8" r="2.97" fill="url(#gO)"/><circle cx="536.7" cy="134.8" r="2.97" fill="url(#gN)"/><circle cx="542.2" cy="124" r="3.29" fill="url(#gS)"/><circle cx="530.3" cy="144.3" r="3.29" fill="url(#gS)"/></g><g><line x1="548.7" y1="201.2" x2="548.01" y2="197.61" stroke="#1b1b1b" stroke-width="1.99"/><line x1="548.01" y1="197.61" x2="547.59" y2="195.42" stroke="#8c8c8c" stroke-width="1.42"/><line x1="548.7" y1="201.2" x2="551.86" y2="201.93" stroke="#1b1b1b" stroke-width="1.99"/><line x1="551.86" y1="201.93" x2="553.79" y2="202.39" stroke="#8c8c8c" stroke-width="1.42"/><line x1="548.7" y1="201.2" x2="548.74" y2="203.5" stroke="#1b1b1b" stroke-width="1.99"/><line x1="548.74" y1="203.5" x2="548.76" y2="204.9" stroke="#8c8c8c" stroke-width="1.42"/><line x1="525" y1="233.7" x2="522.19" y2="231.37" stroke="#1b1b1b" stroke-width="1.99"/><line x1="522.19" y1="231.37" x2="520.46" y2="229.94" stroke="#8c8c8c" stroke-width="1.42"/><line x1="525" y1="233.7" x2="524.13" y2="236.82" stroke="#1b1b1b" stroke-width="1.99"/><line x1="524.13" y1="236.82" x2="523.59" y2="238.73" stroke="#8c8c8c" stroke-width="1.42"/><line x1="525" y1="233.7" x2="527" y2="234.84" stroke="#1b1b1b" stroke-width="1.99"/><line x1="527" y1="234.84" x2="528.22" y2="235.53" stroke="#8c8c8c" stroke-width="1.42"/><line x1="542.2" y1="215" x2="545.79" y2="214.93" stroke="#1b1b1b" stroke-width="1.99"/><line x1="545.79" y1="214.93" x2="547.99" y2="214.88" stroke="#8c8c8c" stroke-width="1.42"/><line x1="542.2" y1="215" x2="543.62" y2="217.02" stroke="#1b1b1b" stroke-width="1.99"/><line x1="543.62" y1="217.02" x2="544.5" y2="218.26" stroke="#8c8c8c" stroke-width="1.42"/><line x1="531.8" y1="220.2" x2="529.63" y2="217.33" stroke="#1b1b1b" stroke-width="1.99"/><line x1="529.63" y1="217.33" x2="528.31" y2="215.58" stroke="#8c8c8c" stroke-width="1.42"/><line x1="531.8" y1="220.2" x2="529.33" y2="220.33" stroke="#1b1b1b" stroke-width="1.99"/><line x1="529.33" y1="220.33" x2="527.82" y2="220.41" stroke="#8c8c8c" stroke-width="1.42"/><circle cx="547.59" cy="195.42" r="1.47" fill="url(#gH)"/><circle cx="553.79" cy="202.39" r="1.47" fill="url(#gH)"/><circle cx="548.76" cy="204.9" r="1.47" fill="url(#gH)"/><circle cx="520.46" cy="229.94" r="1.47" fill="url(#gH)"/><circle cx="523.59" cy="238.73" r="1.47" fill="url(#gH)"/><circle cx="528.22" cy="235.53" r="1.47" fill="url(#gH)"/><circle cx="547.99" cy="214.88" r="1.47" fill="url(#gH)"/><circle cx="544.5" cy="218.26" r="1.47" fill="url(#gH)"/><circle cx="528.31" cy="215.58" r="1.47" fill="url(#gH)"/><circle cx="527.82" cy="220.41" r="1.47" fill="url(#gH)"/><line x1="548.7" y1="201.2" x2="544.35" y2="203.6" stroke="#161616" stroke-width="2.47"/><line x1="544.35" y1="203.6" x2="540" y2="206" stroke="#b4200f" stroke-width="2.47"/><line x1="540" y1="206" x2="541.1" y2="210.5" stroke="#b4200f" stroke-width="2.47"/><line x1="541.1" y1="210.5" x2="542.2" y2="215" stroke="#161616" stroke-width="2.47"/><line x1="542.2" y1="215" x2="537" y2="217.6" stroke="#161616" stroke-width="2.47"/><line x1="537" y1="217.6" x2="531.8" y2="220.2" stroke="#161616" stroke-width="2.47"/><line x1="531.8" y1="220.2" x2="532.5" y2="224.35" stroke="#161616" stroke-width="2.47"/><line x1="532.5" y1="224.35" x2="533.2" y2="228.5" stroke="#b4200f" stroke-width="2.47"/><line x1="533.2" y1="228.5" x2="529.1" y2="231.1" stroke="#b4200f" stroke-width="2.47"/><line x1="529.1" y1="231.1" x2="525" y2="233.7" stroke="#161616" stroke-width="2.47"/><circle cx="548.7" cy="201.2" r="2.47" fill="url(#gC)"/><circle cx="542.2" cy="215" r="2.47" fill="url(#gC)"/><circle cx="531.8" cy="220.2" r="2.47" fill="url(#gC)"/><circle cx="525" cy="233.7" r="2.47" fill="url(#gC)"/><circle cx="540" cy="206" r="2.8" fill="url(#gO)"/><circle cx="533.2" cy="228.5" r="2.8" fill="url(#gO)"/></g><g fill="#141414" stroke="#141414" stroke-width="0.36"><text x="476.6" y="123.4" font-size="14.6" textLength="16.4" lengthAdjust="spacingAndGlyphs">Li<tspan dy="-4.6" font-size="9.5" font-weight="bold">+</tspan></text><text x="478.2" y="175.6" font-size="14.6" textLength="24" lengthAdjust="spacingAndGlyphs"><tspan dy="0" font-size="14.6">Li</tspan><tspan dy="4.9" font-size="10">2</tspan><tspan dy="-4.9" font-size="14.6">S</tspan></text><text x="483" y="242.3" font-size="14.6" textLength="28.6" lengthAdjust="spacingAndGlyphs"><tspan dy="0" font-size="14.6">Li</tspan><tspan dy="4.9" font-size="10">2</tspan><tspan dy="-4.9" font-size="14.6">S</tspan><tspan dy="4.9" font-size="10">2</tspan></text><text x="566" y="141.6" font-size="14.4" textLength="21" lengthAdjust="spacingAndGlyphs">FSI<tspan dy="-4.6" font-size="10">-</tspan></text><text x="557.6" y="222.6" font-size="14.2" textLength="30.4" lengthAdjust="spacingAndGlyphs">DME</text><text x="495.8" y="282" font-size="13.2" textLength="55" lengthAdjust="spacingAndGlyphs">SEI layer</text><text x="495.8" y="309.6" font-size="13.2" textLength="74.6" lengthAdjust="spacingAndGlyphs">Li substrate</text><text x="496.6" y="338" font-size="13.2" textLength="63.4" lengthAdjust="spacingAndGlyphs">Surface Li</text></g><rect x="461.2" y="274.4" width="27" height="9.4" fill="url(#gSEI)"/><rect x="461.2" y="301.2" width="28.8" height="10" fill="#a25129"/><rect x="461.2" y="329.6" width="28.8" height="10.4" fill="#9b65d1"/></g>
<g fill="#121212" stroke="#121212" stroke-width="0.3">
<text x="25" y="40.3" font-size="16" textLength="75" lengthAdjust="spacingAndGlyphs">S@CMK-3</text>
<text x="25" y="284" font-size="16" textLength="75" lengthAdjust="spacingAndGlyphs">S@CMK-3</text>
<text x="223.3" y="40.7" font-size="15" textLength="71.7" lengthAdjust="spacingAndGlyphs">Separator</text>
<text x="117.3" y="67.7" font-size="15" textLength="141" lengthAdjust="spacingAndGlyphs">Coordinated solvent</text>
<text x="141" y="307.9" font-size="15" textLength="90.8" lengthAdjust="spacingAndGlyphs">Free solvent</text>
<text x="326.7" y="43.5" font-size="15" textLength="120" lengthAdjust="spacingAndGlyphs">stable dynamics</text>
<text x="310.1" y="281.9" font-size="15" textLength="137.4" lengthAdjust="spacingAndGlyphs">unstable dynamics</text>
<text x="380.8" y="72.8" font-size="15.5" textLength="65.2" lengthAdjust="spacingAndGlyphs">stripping</text>
<text x="388.2" y="117" font-size="15.5" textLength="49.8" lengthAdjust="spacingAndGlyphs">plating</text>
<text x="380.8" y="322.7" font-size="15.5" textLength="65.2" lengthAdjust="spacingAndGlyphs">stripping</text>
<text x="388.4" y="358.5" font-size="15.5" textLength="49.8" lengthAdjust="spacingAndGlyphs">plating</text>
<text x="244.3" y="429.8" font-size="14.5" font-weight="bold">S</text>
<text x="256" y="434.8" font-size="8.6" font-style="italic" font-weight="bold">n</text>
<text x="261.0" y="424.4" font-size="8.3" font-weight="bold">2−</text>
<text x="244.3" y="472.8" font-size="14.5" font-weight="bold">S</text>
<text x="255.8" y="478.2" font-size="8.6" font-style="italic" font-weight="bold" textLength="16" lengthAdjust="spacingAndGlyphs">n−x</text>
<text x="272.2" y="468.4" font-size="8.3" font-weight="bold">2−</text>
</g>
</g>
</svg></body></html>
